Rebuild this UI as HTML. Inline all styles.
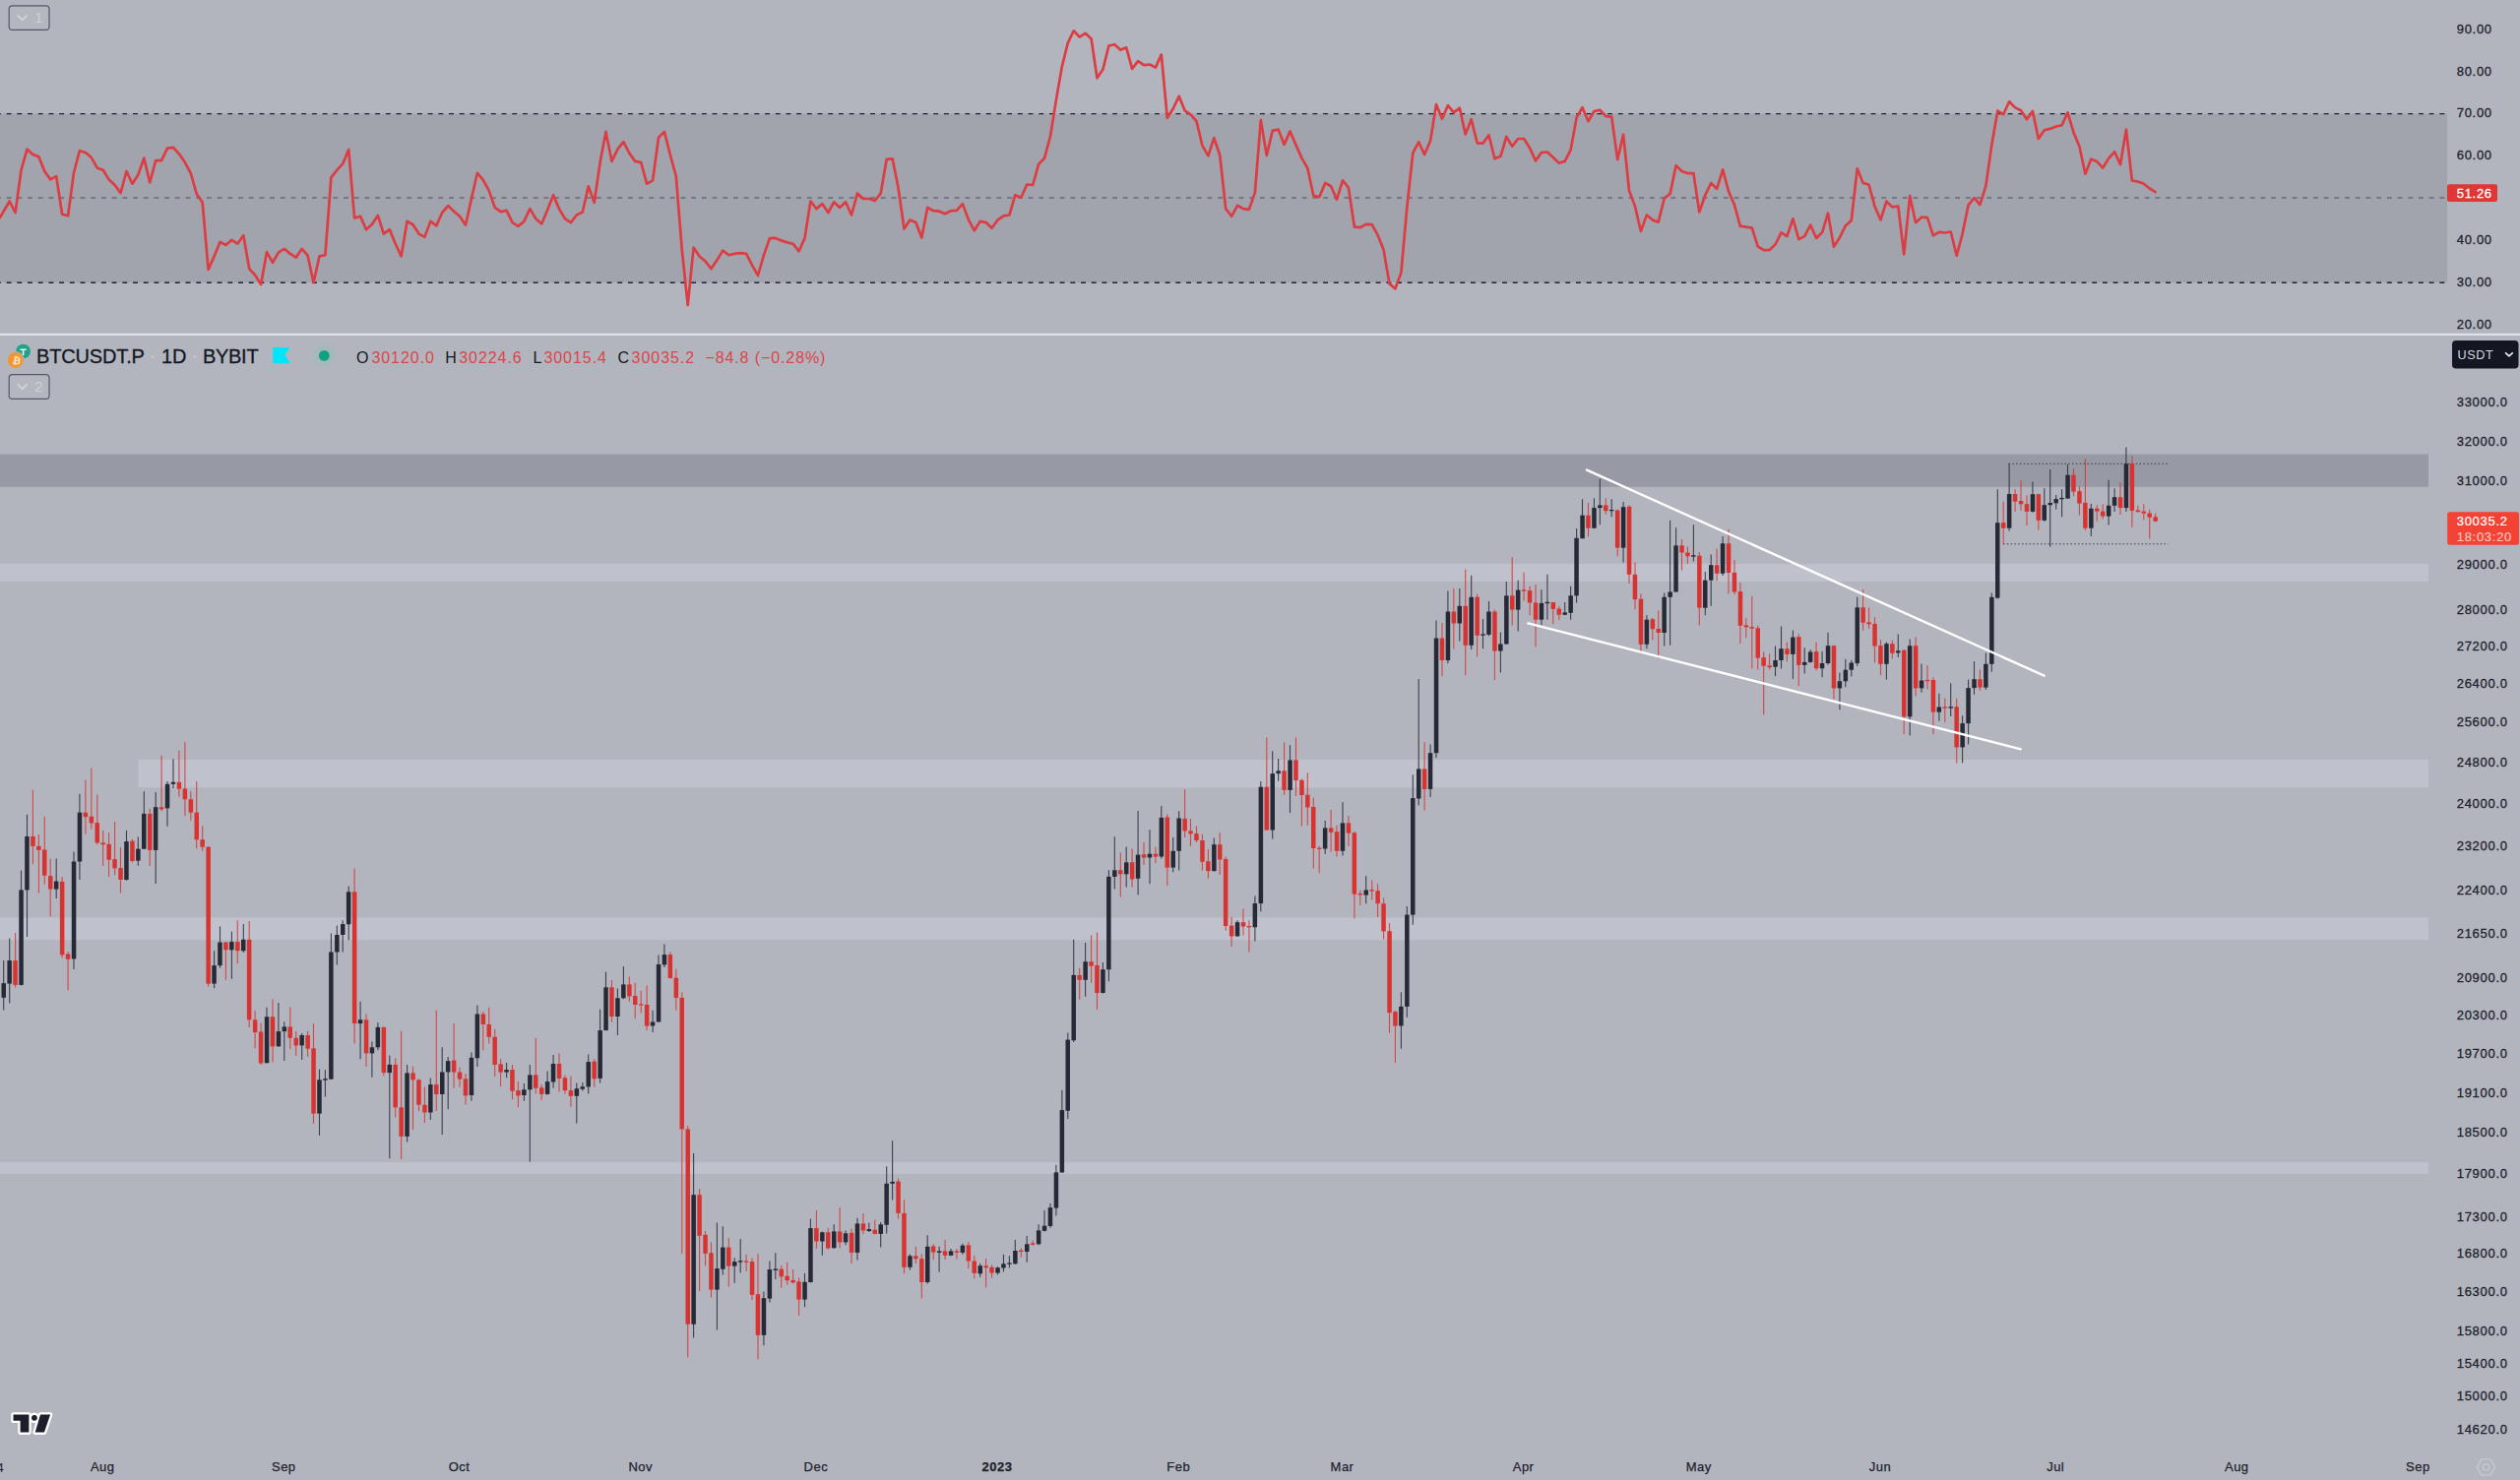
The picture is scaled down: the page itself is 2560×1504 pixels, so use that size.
<!DOCTYPE html>
<html lang="en"><head><meta charset="utf-8"><title>BTCUSDT.P 1D BYBIT</title>
<style>html,body{margin:0;padding:0;background:#b2b5be;overflow:hidden}svg{display:block}</style></head>
<body>
<svg width="2560" height="1504" viewBox="0 0 2560 1504" font-family="'Liberation Sans', sans-serif">
<rect width="2560" height="1504" fill="#b2b5be"/>
<rect x="0" y="115.6" width="2486" height="171.5" fill="#a1a4ad"/>
<line x1="-4.05" y1="115.6" x2="2486" y2="115.6" stroke="#20232d" stroke-width="1.4" stroke-dasharray="4.9 5.8"/>
<line x1="-4.05" y1="287.2" x2="2486" y2="287.2" stroke="#20232d" stroke-width="1.4" stroke-dasharray="4.9 5.8"/>
<line x1="-4.05" y1="201.0" x2="2486" y2="201.0" stroke="#676a75" stroke-width="1.4" stroke-dasharray="4.9 5.8"/>
<polyline fill="none" stroke="#dc3c42" stroke-width="2.7" stroke-linejoin="round" stroke-linecap="round" points="0.0,221.0 9.7,204.5 15.6,216.0 21.5,172.8 27.5,151.7 33.4,157.0 39.4,159.3 45.3,174.0 51.2,182.4 57.2,179.1 63.1,217.7 69.1,219.3 75.0,175.3 80.9,153.2 86.9,155.0 92.8,160.1 98.8,170.7 104.7,172.8 110.6,182.4 116.6,188.0 122.5,196.1 128.5,174.0 134.4,186.7 140.3,177.8 146.3,160.6 152.2,185.5 158.2,163.1 164.1,163.1 170.0,150.7 176.0,149.9 181.9,156.3 187.9,165.1 193.8,176.1 199.7,196.9 205.7,205.8 211.6,273.9 217.6,260.4 223.5,245.9 229.4,249.0 235.4,243.9 241.3,247.7 247.3,239.3 253.2,273.1 259.1,279.5 265.1,289.1 271.0,256.1 277.0,266.8 282.9,256.6 288.8,252.8 294.8,257.9 300.7,261.7 306.7,252.8 312.6,259.7 318.5,287.1 324.5,260.4 330.4,259.2 336.4,180.4 342.3,172.8 348.2,166.4 354.2,151.9 360.1,221.5 366.1,219.8 372.0,233.2 377.9,227.9 383.9,219.0 389.8,237.6 395.8,233.2 401.7,247.7 407.6,260.4 413.6,224.9 419.5,228.2 425.5,237.6 431.4,240.9 437.3,224.9 443.3,229.4 449.2,216.0 455.2,209.1 461.1,214.7 467.0,219.8 473.0,228.7 478.9,202.0 484.9,175.8 490.8,182.9 496.7,193.6 502.7,210.9 508.6,215.2 514.6,213.9 520.5,226.1 526.4,229.9 532.4,224.9 538.3,212.1 544.3,222.3 550.2,227.4 556.1,213.4 562.1,198.2 568.0,212.1 574.0,222.3 579.9,226.1 585.8,218.5 591.8,215.5 597.7,189.3 603.7,205.8 609.6,165.1 615.5,133.9 621.5,163.9 627.4,151.7 633.4,144.1 639.3,155.6 645.2,163.9 651.2,165.1 657.1,186.7 663.1,183.4 669.0,139.7 674.9,133.9 680.9,157.5 686.8,179.1 692.8,254.1 698.7,310.0 704.6,251.5 710.6,260.4 716.5,265.5 722.5,273.1 728.4,264.2 734.3,254.6 740.3,259.2 746.2,257.9 752.2,257.1 758.1,257.9 764.0,269.3 770.0,280.0 775.9,259.2 781.9,242.1 787.8,241.9 793.7,244.4 799.7,246.4 805.6,247.7 811.6,255.3 817.5,242.1 823.4,204.5 829.4,212.1 835.3,207.1 841.3,216.0 847.2,205.3 853.1,210.9 859.1,205.3 865.0,218.5 871.0,196.4 876.9,202.0 882.8,202.0 888.8,204.0 894.7,196.4 900.7,161.8 906.6,161.3 912.5,190.6 918.5,232.5 924.4,223.6 930.4,226.1 936.3,241.4 942.2,210.9 948.2,214.2 954.1,214.7 960.1,217.2 966.0,214.2 971.9,213.9 977.9,207.1 983.8,223.1 989.8,234.3 995.7,224.9 1001.6,226.1 1007.6,231.7 1013.5,223.6 1019.5,219.3 1025.4,218.5 1031.3,198.2 1037.3,200.7 1043.2,187.5 1049.2,188.0 1055.1,166.9 1061.0,160.8 1067.0,138.5 1072.9,101.6 1078.9,67.3 1084.8,43.7 1090.7,31.3 1096.7,37.6 1102.6,33.8 1108.6,39.4 1114.5,79.3 1120.4,70.6 1126.4,46.5 1132.3,45.2 1138.3,50.8 1144.2,48.3 1150.1,69.9 1156.1,62.2 1162.0,66.1 1168.0,65.5 1173.9,68.6 1179.8,55.4 1185.8,119.9 1191.7,110.5 1197.7,97.8 1203.6,112.3 1209.5,116.4 1215.5,123.2 1221.4,147.9 1227.4,158.3 1233.3,140.2 1239.2,157.5 1245.2,212.1 1251.1,219.8 1257.1,208.8 1263.0,212.1 1268.9,212.9 1274.9,195.6 1280.8,122.0 1286.8,158.0 1292.7,132.9 1298.6,131.6 1304.6,146.9 1310.5,133.4 1316.5,147.4 1322.4,160.6 1328.3,170.7 1334.3,198.7 1340.2,200.2 1346.2,186.0 1352.1,189.3 1358.0,202.7 1364.0,183.4 1369.9,190.6 1375.9,230.7 1381.8,231.2 1387.7,227.9 1393.7,228.2 1399.6,238.8 1405.6,254.1 1411.5,288.4 1417.4,293.4 1423.4,276.9 1429.3,210.9 1435.3,155.5 1441.2,144.3 1447.1,157.0 1453.1,143.0 1459.0,106.2 1465.0,120.7 1470.9,107.2 1476.8,114.3 1482.8,109.8 1488.7,136.4 1494.7,121.2 1500.6,145.3 1506.5,145.6 1512.5,137.2 1518.4,161.3 1524.4,158.8 1530.3,139.0 1536.2,148.6 1542.2,141.0 1548.1,141.0 1554.1,150.4 1560.0,163.4 1565.9,155.0 1571.9,154.5 1577.8,160.1 1583.8,165.7 1589.7,163.9 1595.6,152.4 1601.6,119.4 1607.5,109.2 1613.5,123.2 1619.4,113.1 1625.3,111.8 1631.3,118.1 1637.2,118.7 1643.2,162.1 1649.1,136.7 1655.0,193.6 1661.0,209.6 1666.9,235.0 1672.9,218.5 1678.8,223.6 1684.7,225.6 1690.7,201.5 1696.6,196.9 1702.6,168.2 1708.5,174.0 1714.4,176.1 1720.4,176.1 1726.3,215.5 1732.3,198.2 1738.2,186.0 1744.1,191.8 1750.1,172.3 1756.0,194.4 1762.0,208.3 1767.9,229.9 1773.8,230.7 1779.8,231.7 1785.7,250.3 1791.7,254.1 1797.6,254.1 1803.5,248.5 1809.5,236.3 1815.4,240.1 1821.4,222.3 1827.3,243.1 1833.2,240.1 1839.2,228.7 1845.1,241.9 1851.1,236.3 1857.0,216.7 1862.9,250.8 1868.9,241.4 1874.8,229.4 1880.8,223.9 1886.7,171.3 1892.6,185.9 1898.6,187.8 1904.5,209.7 1910.5,223.4 1916.4,204.6 1922.3,210.4 1928.3,209.7 1934.2,258.4 1940.2,199.2 1946.1,226.2 1952.0,220.7 1958.0,221.2 1963.9,239.4 1969.9,235.9 1975.8,236.5 1981.7,235.5 1987.7,259.8 1993.6,237.6 1999.6,208.3 2005.5,201.1 2011.4,208.0 2017.4,188.9 2023.3,147.4 2029.3,112.7 2035.2,116.2 2041.1,103.3 2047.1,109.4 2053.0,112.3 2059.0,121.3 2064.9,113.0 2070.8,140.9 2076.8,132.3 2082.7,130.9 2088.7,128.5 2094.6,127.3 2100.5,114.4 2106.5,134.5 2112.4,148.8 2118.4,176.8 2124.3,161.7 2130.2,164.1 2136.2,170.6 2142.1,161.0 2148.1,154.3 2154.0,167.2 2159.9,131.6 2165.9,183.5 2171.8,184.6 2177.8,186.8 2183.7,191.5 2189.6,195.1"/>
<text x="2495.7" y="33.6" font-size="13" letter-spacing="0.72" fill="#1e222d" stroke="#1e222d" stroke-width="0.3" font-weight="normal">90.00</text>
<text x="2495.7" y="76.5" font-size="13" letter-spacing="0.72" fill="#1e222d" stroke="#1e222d" stroke-width="0.3" font-weight="normal">80.00</text>
<text x="2495.7" y="119.2" font-size="13" letter-spacing="0.72" fill="#1e222d" stroke="#1e222d" stroke-width="0.3" font-weight="normal">70.00</text>
<text x="2495.7" y="162.4" font-size="13" letter-spacing="0.72" fill="#1e222d" stroke="#1e222d" stroke-width="0.3" font-weight="normal">60.00</text>
<text x="2495.7" y="247.8" font-size="13" letter-spacing="0.72" fill="#1e222d" stroke="#1e222d" stroke-width="0.3" font-weight="normal">40.00</text>
<text x="2495.7" y="290.6" font-size="13" letter-spacing="0.72" fill="#1e222d" stroke="#1e222d" stroke-width="0.3" font-weight="normal">30.00</text>
<text x="2495.7" y="334.1" font-size="13" letter-spacing="0.72" fill="#1e222d" stroke="#1e222d" stroke-width="0.3" font-weight="normal">20.00</text>
<rect x="2486" y="187.2" width="51" height="17.8" rx="2" fill="#df3636"/>
<text x="2495.7" y="200.6" font-size="13" letter-spacing="0.72" fill="#ffffff" stroke="#ffffff" stroke-width="0.3" font-weight="normal">51.26</text>
<rect x="9.2" y="5.8" width="40.8" height="24.6" rx="3.5" fill="#b4b7c0" stroke="#555965" stroke-width="1.2"/>
<path d="M18.5 16.1 L22.7 20.3 L26.9 16.1" fill="none" stroke="#cfd2d9" stroke-width="2" stroke-linecap="round" stroke-linejoin="round"/>
<text x="35.2" y="23.3" font-size="15" fill="#cdd0d7">1</text>
<rect x="0" y="338.8" width="2560" height="2.2" fill="#dfe1e7"/>
<rect x="0" y="461.6" width="2467" height="33.2" fill="#979aa4"/>
<rect x="0" y="573" width="2467" height="17.8" fill="#bfc2cc"/>
<rect x="140.5" y="772" width="2326.5" height="28.3" fill="#bfc2cc"/>
<rect x="0" y="932.4" width="2467" height="22.9" fill="#bfc2cc"/>
<rect x="0" y="1181.2" width="2467" height="11.6" fill="#bfc2cc"/>
<line x1="2040.5" y1="471.3" x2="2202.6" y2="471.3" stroke="#2a2e39" stroke-opacity="0.85" stroke-width="1" stroke-dasharray="1.5 2.3"/>
<line x1="2035" y1="552.8" x2="2202.6" y2="552.8" stroke="#2a2e39" stroke-opacity="0.85" stroke-width="1" stroke-dasharray="1.5 2.3"/>
<path d="M3.7 976.1V1026.6" stroke="#262a36" stroke-width="1.1" stroke-opacity="0.85"/>
<rect x="1.5" y="999.2" width="4.5" height="14.6" fill="#262a36"/>
<path d="M9.7 953.6V1019.6" stroke="#262a36" stroke-width="1.1" stroke-opacity="0.85"/>
<rect x="7.4" y="976.1" width="4.5" height="23.5" fill="#262a36"/>
<path d="M15.6 948.0V1003.4" stroke="#d93331" stroke-width="1.1" stroke-opacity="0.85"/>
<rect x="13.3" y="976.1" width="4.5" height="24.8" fill="#d93331"/>
<path d="M21.5 884.5V1001.5" stroke="#262a36" stroke-width="1.1" stroke-opacity="0.85"/>
<rect x="19.3" y="904.4" width="4.5" height="96.5" fill="#262a36"/>
<path d="M27.5 827.7V952.0" stroke="#262a36" stroke-width="1.1" stroke-opacity="0.85"/>
<rect x="25.2" y="850.0" width="4.5" height="54.4" fill="#262a36"/>
<path d="M33.4 802.7V878.2" stroke="#d93331" stroke-width="1.1" stroke-opacity="0.85"/>
<rect x="31.2" y="850.0" width="4.5" height="9.9" fill="#d93331"/>
<path d="M39.4 848.0V907.5" stroke="#d93331" stroke-width="1.1" stroke-opacity="0.85"/>
<rect x="37.1" y="859.9" width="4.5" height="4.0" fill="#d93331"/>
<path d="M45.3 829.7V898.8" stroke="#d93331" stroke-width="1.1" stroke-opacity="0.85"/>
<rect x="43.0" y="863.5" width="4.5" height="26.2" fill="#d93331"/>
<path d="M51.2 872.6V931.3" stroke="#d93331" stroke-width="1.1" stroke-opacity="0.85"/>
<rect x="49.0" y="890.1" width="4.5" height="13.5" fill="#d93331"/>
<path d="M57.2 872.6V913.1" stroke="#262a36" stroke-width="1.1" stroke-opacity="0.85"/>
<rect x="54.9" y="895.6" width="4.5" height="8.0" fill="#262a36"/>
<path d="M63.1 890.9V973.4" stroke="#d93331" stroke-width="1.1" stroke-opacity="0.85"/>
<rect x="60.9" y="895.9" width="4.5" height="74.4" fill="#d93331"/>
<path d="M69.1 967.1V1006.2" stroke="#d93331" stroke-width="1.1" stroke-opacity="0.85"/>
<rect x="66.8" y="969.5" width="4.5" height="5.3" fill="#d93331"/>
<path d="M75.0 865.4V984.9" stroke="#262a36" stroke-width="1.1" stroke-opacity="0.85"/>
<rect x="72.8" y="875.5" width="4.5" height="98.9" fill="#262a36"/>
<path d="M80.9 806.7V894.0" stroke="#262a36" stroke-width="1.1" stroke-opacity="0.85"/>
<rect x="78.7" y="825.7" width="4.5" height="49.8" fill="#262a36"/>
<path d="M86.9 792.4V847.7" stroke="#d93331" stroke-width="1.1" stroke-opacity="0.85"/>
<rect x="84.6" y="825.7" width="4.5" height="4.5" fill="#d93331"/>
<path d="M92.8 780.5V842.4" stroke="#d93331" stroke-width="1.1" stroke-opacity="0.85"/>
<rect x="90.6" y="829.7" width="4.5" height="6.8" fill="#d93331"/>
<path d="M98.8 807.5V858.3" stroke="#d93331" stroke-width="1.1" stroke-opacity="0.85"/>
<rect x="96.5" y="836.1" width="4.5" height="20.3" fill="#d93331"/>
<path d="M104.7 844.0V880.1" stroke="#d93331" stroke-width="1.1" stroke-opacity="0.85"/>
<rect x="102.5" y="856.4" width="4.5" height="1.9" fill="#d93331"/>
<path d="M110.6 846.1V890.9" stroke="#d93331" stroke-width="1.1" stroke-opacity="0.85"/>
<rect x="108.4" y="857.8" width="4.5" height="15.9" fill="#d93331"/>
<path d="M116.6 835.0V889.3" stroke="#d93331" stroke-width="1.1" stroke-opacity="0.85"/>
<rect x="114.3" y="873.1" width="4.5" height="9.3" fill="#d93331"/>
<path d="M122.5 861.0V907.5" stroke="#d93331" stroke-width="1.1" stroke-opacity="0.85"/>
<rect x="120.3" y="882.1" width="4.5" height="11.9" fill="#d93331"/>
<path d="M128.5 844.0V894.8" stroke="#262a36" stroke-width="1.1" stroke-opacity="0.85"/>
<rect x="126.2" y="855.1" width="4.5" height="38.9" fill="#262a36"/>
<path d="M134.4 852.7V876.6" stroke="#d93331" stroke-width="1.1" stroke-opacity="0.85"/>
<rect x="132.2" y="854.6" width="4.5" height="20.4" fill="#d93331"/>
<path d="M140.3 850.4V879.7" stroke="#262a36" stroke-width="1.1" stroke-opacity="0.85"/>
<rect x="138.1" y="862.7" width="4.5" height="12.0" fill="#262a36"/>
<path d="M146.3 804.3V863.1" stroke="#262a36" stroke-width="1.1" stroke-opacity="0.85"/>
<rect x="144.0" y="826.9" width="4.5" height="35.8" fill="#262a36"/>
<path d="M152.2 821.8V879.7" stroke="#d93331" stroke-width="1.1" stroke-opacity="0.85"/>
<rect x="150.0" y="826.9" width="4.5" height="37.0" fill="#d93331"/>
<path d="M158.2 805.1V898.0" stroke="#262a36" stroke-width="1.1" stroke-opacity="0.85"/>
<rect x="155.9" y="820.2" width="4.5" height="43.7" fill="#262a36"/>
<path d="M164.1 767.8V824.2" stroke="#d93331" stroke-width="1.1" stroke-opacity="0.85"/>
<rect x="161.9" y="820.2" width="4.5" height="2.1" fill="#d93331"/>
<path d="M170.0 794.0V839.7" stroke="#262a36" stroke-width="1.1" stroke-opacity="0.85"/>
<rect x="167.8" y="796.8" width="4.5" height="24.5" fill="#262a36"/>
<path d="M176.0 771.3V801.1" stroke="#262a36" stroke-width="1.1" stroke-opacity="0.85"/>
<rect x="173.7" y="794.8" width="4.5" height="2.0" fill="#262a36"/>
<path d="M181.9 762.7V809.9" stroke="#d93331" stroke-width="1.1" stroke-opacity="0.85"/>
<rect x="179.7" y="794.8" width="4.5" height="6.8" fill="#d93331"/>
<path d="M187.9 754.0V828.9" stroke="#d93331" stroke-width="1.1" stroke-opacity="0.85"/>
<rect x="185.6" y="801.6" width="4.5" height="10.7" fill="#d93331"/>
<path d="M193.8 804.3V833.7" stroke="#d93331" stroke-width="1.1" stroke-opacity="0.85"/>
<rect x="191.6" y="812.3" width="4.5" height="13.4" fill="#d93331"/>
<path d="M199.7 794.0V862.3" stroke="#d93331" stroke-width="1.1" stroke-opacity="0.85"/>
<rect x="197.5" y="825.7" width="4.5" height="27.5" fill="#d93331"/>
<path d="M205.7 839.2V864.7" stroke="#d93331" stroke-width="1.1" stroke-opacity="0.85"/>
<rect x="203.4" y="853.2" width="4.5" height="7.5" fill="#d93331"/>
<path d="M211.6 859.9V1002.4" stroke="#d93331" stroke-width="1.1" stroke-opacity="0.85"/>
<rect x="209.4" y="860.7" width="4.5" height="138.9" fill="#d93331"/>
<path d="M217.6 966.2V1004.3" stroke="#262a36" stroke-width="1.1" stroke-opacity="0.85"/>
<rect x="215.3" y="981.1" width="4.5" height="18.5" fill="#262a36"/>
<path d="M223.5 941.4V983.7" stroke="#262a36" stroke-width="1.1" stroke-opacity="0.85"/>
<rect x="221.2" y="957.6" width="4.5" height="23.5" fill="#262a36"/>
<path d="M229.4 956.7V995.7" stroke="#d93331" stroke-width="1.1" stroke-opacity="0.85"/>
<rect x="227.2" y="957.6" width="4.5" height="7.7" fill="#d93331"/>
<path d="M235.4 946.8V994.8" stroke="#262a36" stroke-width="1.1" stroke-opacity="0.85"/>
<rect x="233.1" y="957.1" width="4.5" height="8.2" fill="#262a36"/>
<path d="M241.3 935.3V979.2" stroke="#d93331" stroke-width="1.1" stroke-opacity="0.85"/>
<rect x="239.1" y="957.1" width="4.5" height="9.1" fill="#d93331"/>
<path d="M247.3 939.1V968.1" stroke="#262a36" stroke-width="1.1" stroke-opacity="0.85"/>
<rect x="245.0" y="954.8" width="4.5" height="11.4" fill="#262a36"/>
<path d="M253.2 936.1V1043.9" stroke="#d93331" stroke-width="1.1" stroke-opacity="0.85"/>
<rect x="250.9" y="954.8" width="4.5" height="81.5" fill="#d93331"/>
<path d="M259.1 1027.2V1065.3" stroke="#d93331" stroke-width="1.1" stroke-opacity="0.85"/>
<rect x="256.9" y="1036.3" width="4.5" height="12.8" fill="#d93331"/>
<path d="M265.1 1039.6V1081.9" stroke="#d93331" stroke-width="1.1" stroke-opacity="0.85"/>
<rect x="262.8" y="1048.5" width="4.5" height="32.0" fill="#d93331"/>
<path d="M271.0 1023.8V1080.5" stroke="#262a36" stroke-width="1.1" stroke-opacity="0.85"/>
<rect x="268.8" y="1033.3" width="4.5" height="46.9" fill="#262a36"/>
<path d="M277.0 1015.2V1079.6" stroke="#d93331" stroke-width="1.1" stroke-opacity="0.85"/>
<rect x="274.7" y="1033.3" width="4.5" height="30.1" fill="#d93331"/>
<path d="M282.9 1019.0V1063.4" stroke="#262a36" stroke-width="1.1" stroke-opacity="0.85"/>
<rect x="280.7" y="1048.1" width="4.5" height="15.3" fill="#262a36"/>
<path d="M288.8 1038.2V1078.1" stroke="#262a36" stroke-width="1.1" stroke-opacity="0.85"/>
<rect x="286.6" y="1043.4" width="4.5" height="4.7" fill="#262a36"/>
<path d="M294.8 1023.4V1066.2" stroke="#d93331" stroke-width="1.1" stroke-opacity="0.85"/>
<rect x="292.5" y="1043.4" width="4.5" height="11.4" fill="#d93331"/>
<path d="M300.7 1048.1V1072.9" stroke="#d93331" stroke-width="1.1" stroke-opacity="0.85"/>
<rect x="298.5" y="1054.8" width="4.5" height="7.6" fill="#d93331"/>
<path d="M306.7 1050.0V1077.1" stroke="#262a36" stroke-width="1.1" stroke-opacity="0.85"/>
<rect x="304.4" y="1052.0" width="4.5" height="10.4" fill="#262a36"/>
<path d="M312.6 1047.8V1073.9" stroke="#d93331" stroke-width="1.1" stroke-opacity="0.85"/>
<rect x="310.4" y="1052.0" width="4.5" height="13.7" fill="#d93331"/>
<path d="M318.5 1040.1V1141.9" stroke="#d93331" stroke-width="1.1" stroke-opacity="0.85"/>
<rect x="316.3" y="1065.3" width="4.5" height="66.3" fill="#d93331"/>
<path d="M324.5 1086.6V1153.9" stroke="#262a36" stroke-width="1.1" stroke-opacity="0.85"/>
<rect x="322.2" y="1097.3" width="4.5" height="34.3" fill="#262a36"/>
<path d="M330.4 1087.2V1114.5" stroke="#262a36" stroke-width="1.1" stroke-opacity="0.85"/>
<rect x="328.2" y="1096.2" width="4.5" height="1.5" fill="#262a36"/>
<path d="M336.4 948.5V1096.7" stroke="#262a36" stroke-width="1.1" stroke-opacity="0.85"/>
<rect x="334.1" y="967.5" width="4.5" height="129.2" fill="#262a36"/>
<path d="M342.3 940.5V980.5" stroke="#262a36" stroke-width="1.1" stroke-opacity="0.85"/>
<rect x="340.1" y="950.0" width="4.5" height="17.5" fill="#262a36"/>
<path d="M348.2 935.3V967.5" stroke="#262a36" stroke-width="1.1" stroke-opacity="0.85"/>
<rect x="346.0" y="939.1" width="4.5" height="10.9" fill="#262a36"/>
<path d="M354.2 900.4V955.2" stroke="#262a36" stroke-width="1.1" stroke-opacity="0.85"/>
<rect x="351.9" y="906.3" width="4.5" height="33.0" fill="#262a36"/>
<path d="M360.1 882.6V1060.5" stroke="#d93331" stroke-width="1.1" stroke-opacity="0.85"/>
<rect x="357.9" y="906.3" width="4.5" height="133.8" fill="#d93331"/>
<path d="M366.1 1017.7V1076.3" stroke="#262a36" stroke-width="1.1" stroke-opacity="0.85"/>
<rect x="363.8" y="1036.3" width="4.5" height="3.8" fill="#262a36"/>
<path d="M372.0 1030.4V1084.0" stroke="#d93331" stroke-width="1.1" stroke-opacity="0.85"/>
<rect x="369.8" y="1036.3" width="4.5" height="34.1" fill="#d93331"/>
<path d="M377.9 1058.6V1094.8" stroke="#262a36" stroke-width="1.1" stroke-opacity="0.85"/>
<rect x="375.7" y="1064.3" width="4.5" height="6.1" fill="#262a36"/>
<path d="M383.9 1039.2V1067.2" stroke="#262a36" stroke-width="1.1" stroke-opacity="0.85"/>
<rect x="381.6" y="1043.9" width="4.5" height="20.4" fill="#262a36"/>
<path d="M389.8 1043.4V1093.3" stroke="#d93331" stroke-width="1.1" stroke-opacity="0.85"/>
<rect x="387.6" y="1043.9" width="4.5" height="46.2" fill="#d93331"/>
<path d="M395.8 1072.5V1177.3" stroke="#262a36" stroke-width="1.1" stroke-opacity="0.85"/>
<rect x="393.5" y="1081.9" width="4.5" height="8.2" fill="#262a36"/>
<path d="M401.7 1075.2V1135.4" stroke="#d93331" stroke-width="1.1" stroke-opacity="0.85"/>
<rect x="399.4" y="1081.9" width="4.5" height="43.4" fill="#d93331"/>
<path d="M407.6 1047.8V1178.1" stroke="#d93331" stroke-width="1.1" stroke-opacity="0.85"/>
<rect x="405.4" y="1125.3" width="4.5" height="29.6" fill="#d93331"/>
<path d="M413.6 1081.9V1160.6" stroke="#262a36" stroke-width="1.1" stroke-opacity="0.85"/>
<rect x="411.3" y="1090.4" width="4.5" height="64.5" fill="#262a36"/>
<path d="M419.5 1083.4V1148.2" stroke="#d93331" stroke-width="1.1" stroke-opacity="0.85"/>
<rect x="417.3" y="1090.4" width="4.5" height="6.9" fill="#d93331"/>
<path d="M425.5 1096.4V1129.1" stroke="#d93331" stroke-width="1.1" stroke-opacity="0.85"/>
<rect x="423.2" y="1097.3" width="4.5" height="25.5" fill="#d93331"/>
<path d="M431.4 1104.4V1141.1" stroke="#d93331" stroke-width="1.1" stroke-opacity="0.85"/>
<rect x="429.2" y="1122.8" width="4.5" height="7.7" fill="#d93331"/>
<path d="M437.3 1095.4V1138.1" stroke="#262a36" stroke-width="1.1" stroke-opacity="0.85"/>
<rect x="435.1" y="1102.1" width="4.5" height="28.4" fill="#262a36"/>
<path d="M443.3 1026.6V1129.1" stroke="#d93331" stroke-width="1.1" stroke-opacity="0.85"/>
<rect x="441.0" y="1102.1" width="4.5" height="9.9" fill="#d93331"/>
<path d="M449.2 1064.3V1152.9" stroke="#262a36" stroke-width="1.1" stroke-opacity="0.85"/>
<rect x="447.0" y="1089.5" width="4.5" height="22.5" fill="#262a36"/>
<path d="M455.2 1073.9V1127.2" stroke="#262a36" stroke-width="1.1" stroke-opacity="0.85"/>
<rect x="452.9" y="1078.2" width="4.5" height="11.3" fill="#262a36"/>
<path d="M461.1 1040.0V1105.8" stroke="#d93331" stroke-width="1.1" stroke-opacity="0.85"/>
<rect x="458.9" y="1077.6" width="4.5" height="12.0" fill="#d93331"/>
<path d="M467.0 1084.8V1104.8" stroke="#d93331" stroke-width="1.1" stroke-opacity="0.85"/>
<rect x="464.8" y="1089.6" width="4.5" height="7.0" fill="#d93331"/>
<path d="M473.0 1090.9V1122.5" stroke="#d93331" stroke-width="1.1" stroke-opacity="0.85"/>
<rect x="470.7" y="1096.3" width="4.5" height="17.1" fill="#d93331"/>
<path d="M478.9 1069.6V1118.7" stroke="#262a36" stroke-width="1.1" stroke-opacity="0.85"/>
<rect x="476.7" y="1074.9" width="4.5" height="38.1" fill="#262a36"/>
<path d="M484.9 1021.6V1083.9" stroke="#262a36" stroke-width="1.1" stroke-opacity="0.85"/>
<rect x="482.6" y="1030.5" width="4.5" height="44.8" fill="#262a36"/>
<path d="M490.8 1028.0V1067.3" stroke="#d93331" stroke-width="1.1" stroke-opacity="0.85"/>
<rect x="488.6" y="1030.5" width="4.5" height="10.5" fill="#d93331"/>
<path d="M496.7 1023.8V1060.4" stroke="#d93331" stroke-width="1.1" stroke-opacity="0.85"/>
<rect x="494.5" y="1041.0" width="4.5" height="12.8" fill="#d93331"/>
<path d="M502.7 1045.8V1094.0" stroke="#d93331" stroke-width="1.1" stroke-opacity="0.85"/>
<rect x="500.4" y="1053.8" width="4.5" height="28.2" fill="#d93331"/>
<path d="M508.6 1076.2V1104.3" stroke="#d93331" stroke-width="1.1" stroke-opacity="0.85"/>
<rect x="506.4" y="1081.4" width="4.5" height="8.2" fill="#d93331"/>
<path d="M514.6 1080.1V1095.3" stroke="#262a36" stroke-width="1.1" stroke-opacity="0.85"/>
<rect x="512.3" y="1087.1" width="4.5" height="2.5" fill="#262a36"/>
<path d="M520.5 1082.0V1117.2" stroke="#d93331" stroke-width="1.1" stroke-opacity="0.85"/>
<rect x="518.2" y="1087.1" width="4.5" height="21.5" fill="#d93331"/>
<path d="M526.4 1099.1V1125.2" stroke="#d93331" stroke-width="1.1" stroke-opacity="0.85"/>
<rect x="524.2" y="1108.1" width="4.5" height="5.3" fill="#d93331"/>
<path d="M532.4 1101.0V1118.7" stroke="#262a36" stroke-width="1.1" stroke-opacity="0.85"/>
<rect x="530.1" y="1107.3" width="4.5" height="5.7" fill="#262a36"/>
<path d="M538.3 1082.0V1180.5" stroke="#262a36" stroke-width="1.1" stroke-opacity="0.85"/>
<rect x="536.1" y="1092.4" width="4.5" height="14.9" fill="#262a36"/>
<path d="M544.3 1054.7V1111.5" stroke="#d93331" stroke-width="1.1" stroke-opacity="0.85"/>
<rect x="542.0" y="1092.4" width="4.5" height="13.4" fill="#d93331"/>
<path d="M550.2 1102.0V1118.2" stroke="#d93331" stroke-width="1.1" stroke-opacity="0.85"/>
<rect x="548.0" y="1105.4" width="4.5" height="6.5" fill="#d93331"/>
<path d="M556.1 1088.6V1112.4" stroke="#262a36" stroke-width="1.1" stroke-opacity="0.85"/>
<rect x="553.9" y="1099.1" width="4.5" height="12.8" fill="#262a36"/>
<path d="M562.1 1072.1V1105.8" stroke="#262a36" stroke-width="1.1" stroke-opacity="0.85"/>
<rect x="559.8" y="1081.0" width="4.5" height="18.5" fill="#262a36"/>
<path d="M568.0 1070.5V1109.6" stroke="#d93331" stroke-width="1.1" stroke-opacity="0.85"/>
<rect x="565.8" y="1081.0" width="4.5" height="14.9" fill="#d93331"/>
<path d="M574.0 1092.4V1111.5" stroke="#d93331" stroke-width="1.1" stroke-opacity="0.85"/>
<rect x="571.7" y="1095.3" width="4.5" height="12.8" fill="#d93331"/>
<path d="M579.9 1093.4V1124.8" stroke="#d93331" stroke-width="1.1" stroke-opacity="0.85"/>
<rect x="577.7" y="1108.1" width="4.5" height="5.7" fill="#d93331"/>
<path d="M585.8 1100.6V1141.4" stroke="#262a36" stroke-width="1.1" stroke-opacity="0.85"/>
<rect x="583.6" y="1106.2" width="4.5" height="7.6" fill="#262a36"/>
<path d="M591.8 1100.1V1108.6" stroke="#262a36" stroke-width="1.1" stroke-opacity="0.85"/>
<rect x="589.5" y="1104.3" width="4.5" height="2.4" fill="#262a36"/>
<path d="M597.7 1071.5V1111.5" stroke="#262a36" stroke-width="1.1" stroke-opacity="0.85"/>
<rect x="595.5" y="1079.1" width="4.5" height="25.3" fill="#262a36"/>
<path d="M603.7 1076.2V1104.8" stroke="#d93331" stroke-width="1.1" stroke-opacity="0.85"/>
<rect x="601.4" y="1078.7" width="4.5" height="17.6" fill="#d93331"/>
<path d="M609.6 1025.7V1100.6" stroke="#262a36" stroke-width="1.1" stroke-opacity="0.85"/>
<rect x="607.4" y="1047.1" width="4.5" height="48.8" fill="#262a36"/>
<path d="M615.5 987.6V1047.1" stroke="#262a36" stroke-width="1.1" stroke-opacity="0.85"/>
<rect x="613.3" y="1003.3" width="4.5" height="43.8" fill="#262a36"/>
<path d="M621.5 996.2V1038.7" stroke="#d93331" stroke-width="1.1" stroke-opacity="0.85"/>
<rect x="619.2" y="1003.3" width="4.5" height="29.7" fill="#d93331"/>
<path d="M627.4 1004.4V1052.0" stroke="#262a36" stroke-width="1.1" stroke-opacity="0.85"/>
<rect x="625.2" y="1014.3" width="4.5" height="18.7" fill="#262a36"/>
<path d="M633.4 981.9V1015.3" stroke="#262a36" stroke-width="1.1" stroke-opacity="0.85"/>
<rect x="631.1" y="1000.4" width="4.5" height="13.9" fill="#262a36"/>
<path d="M639.3 992.4V1018.1" stroke="#d93331" stroke-width="1.1" stroke-opacity="0.85"/>
<rect x="637.1" y="1000.4" width="4.5" height="12.0" fill="#d93331"/>
<path d="M645.2 998.7V1035.3" stroke="#d93331" stroke-width="1.1" stroke-opacity="0.85"/>
<rect x="643.0" y="1012.0" width="4.5" height="9.0" fill="#d93331"/>
<path d="M651.2 1006.7V1029.6" stroke="#d93331" stroke-width="1.1" stroke-opacity="0.85"/>
<rect x="648.9" y="1020.4" width="4.5" height="1.2" fill="#d93331"/>
<path d="M657.1 1001.4V1047.1" stroke="#d93331" stroke-width="1.1" stroke-opacity="0.85"/>
<rect x="654.9" y="1021.0" width="4.5" height="21.5" fill="#d93331"/>
<path d="M663.1 1026.7V1049.0" stroke="#262a36" stroke-width="1.1" stroke-opacity="0.85"/>
<rect x="660.8" y="1038.5" width="4.5" height="4.0" fill="#262a36"/>
<path d="M669.0 970.5V1038.5" stroke="#262a36" stroke-width="1.1" stroke-opacity="0.85"/>
<rect x="666.8" y="980.0" width="4.5" height="58.5" fill="#262a36"/>
<path d="M674.9 959.6V982.9" stroke="#262a36" stroke-width="1.1" stroke-opacity="0.85"/>
<rect x="672.7" y="970.1" width="4.5" height="10.3" fill="#262a36"/>
<path d="M680.9 967.6V994.7" stroke="#d93331" stroke-width="1.1" stroke-opacity="0.85"/>
<rect x="678.6" y="970.1" width="4.5" height="23.8" fill="#d93331"/>
<path d="M686.8 984.8V1026.7" stroke="#d93331" stroke-width="1.1" stroke-opacity="0.85"/>
<rect x="684.6" y="993.7" width="4.5" height="20.2" fill="#d93331"/>
<path d="M692.8 1008.6V1273.9" stroke="#d93331" stroke-width="1.1" stroke-opacity="0.85"/>
<rect x="690.5" y="1013.9" width="4.5" height="133.6" fill="#d93331"/>
<path d="M698.7 1144.3V1379.2" stroke="#d93331" stroke-width="1.1" stroke-opacity="0.85"/>
<rect x="696.5" y="1147.5" width="4.5" height="198.2" fill="#d93331"/>
<path d="M704.6 1171.9V1359.6" stroke="#262a36" stroke-width="1.1" stroke-opacity="0.85"/>
<rect x="702.4" y="1214.2" width="4.5" height="131.5" fill="#262a36"/>
<path d="M710.6 1208.1V1312.0" stroke="#d93331" stroke-width="1.1" stroke-opacity="0.85"/>
<rect x="708.3" y="1214.2" width="4.5" height="41.6" fill="#d93331"/>
<path d="M716.5 1251.0V1286.3" stroke="#d93331" stroke-width="1.1" stroke-opacity="0.85"/>
<rect x="714.3" y="1254.8" width="4.5" height="19.1" fill="#d93331"/>
<path d="M722.5 1262.4V1318.6" stroke="#d93331" stroke-width="1.1" stroke-opacity="0.85"/>
<rect x="720.2" y="1273.3" width="4.5" height="37.3" fill="#d93331"/>
<path d="M728.4 1242.4V1351.6" stroke="#262a36" stroke-width="1.1" stroke-opacity="0.85"/>
<rect x="726.2" y="1289.1" width="4.5" height="21.5" fill="#262a36"/>
<path d="M734.3 1246.2V1295.4" stroke="#262a36" stroke-width="1.1" stroke-opacity="0.85"/>
<rect x="732.1" y="1267.6" width="4.5" height="22.1" fill="#262a36"/>
<path d="M740.3 1258.1V1307.6" stroke="#d93331" stroke-width="1.1" stroke-opacity="0.85"/>
<rect x="738.0" y="1267.6" width="4.5" height="19.0" fill="#d93331"/>
<path d="M746.2 1278.2V1303.8" stroke="#262a36" stroke-width="1.1" stroke-opacity="0.85"/>
<rect x="744.0" y="1282.1" width="4.5" height="4.5" fill="#262a36"/>
<path d="M752.2 1259.0V1293.5" stroke="#262a36" stroke-width="1.1" stroke-opacity="0.85"/>
<rect x="749.9" y="1281.2" width="4.5" height="1.4" fill="#262a36"/>
<path d="M758.1 1274.8V1292.0" stroke="#d93331" stroke-width="1.1" stroke-opacity="0.85"/>
<rect x="755.9" y="1281.5" width="4.5" height="1.3" fill="#d93331"/>
<path d="M764.0 1278.6V1320.9" stroke="#d93331" stroke-width="1.1" stroke-opacity="0.85"/>
<rect x="761.8" y="1282.1" width="4.5" height="33.7" fill="#d93331"/>
<path d="M770.0 1274.2V1381.5" stroke="#d93331" stroke-width="1.1" stroke-opacity="0.85"/>
<rect x="767.7" y="1315.2" width="4.5" height="41.6" fill="#d93331"/>
<path d="M775.9 1312.5V1367.2" stroke="#262a36" stroke-width="1.1" stroke-opacity="0.85"/>
<rect x="773.7" y="1319.2" width="4.5" height="37.6" fill="#262a36"/>
<path d="M781.9 1281.5V1323.4" stroke="#262a36" stroke-width="1.1" stroke-opacity="0.85"/>
<rect x="779.6" y="1290.1" width="4.5" height="29.5" fill="#262a36"/>
<path d="M787.8 1273.3V1300.0" stroke="#262a36" stroke-width="1.1" stroke-opacity="0.85"/>
<rect x="785.6" y="1289.5" width="4.5" height="1.4" fill="#262a36"/>
<path d="M793.7 1285.9V1308.7" stroke="#d93331" stroke-width="1.1" stroke-opacity="0.85"/>
<rect x="791.5" y="1289.7" width="4.5" height="7.6" fill="#d93331"/>
<path d="M799.7 1282.8V1305.7" stroke="#d93331" stroke-width="1.1" stroke-opacity="0.85"/>
<rect x="797.4" y="1296.7" width="4.5" height="4.4" fill="#d93331"/>
<path d="M805.6 1290.1V1304.4" stroke="#d93331" stroke-width="1.1" stroke-opacity="0.85"/>
<rect x="803.4" y="1300.9" width="4.5" height="2.5" fill="#d93331"/>
<path d="M811.6 1298.6V1337.1" stroke="#d93331" stroke-width="1.1" stroke-opacity="0.85"/>
<rect x="809.3" y="1302.4" width="4.5" height="18.2" fill="#d93331"/>
<path d="M817.5 1293.9V1328.2" stroke="#262a36" stroke-width="1.1" stroke-opacity="0.85"/>
<rect x="815.3" y="1302.8" width="4.5" height="17.8" fill="#262a36"/>
<path d="M823.4 1238.6V1303.4" stroke="#262a36" stroke-width="1.1" stroke-opacity="0.85"/>
<rect x="821.2" y="1248.1" width="4.5" height="54.9" fill="#262a36"/>
<path d="M829.4 1230.0V1269.1" stroke="#d93331" stroke-width="1.1" stroke-opacity="0.85"/>
<rect x="827.1" y="1248.1" width="4.5" height="13.4" fill="#d93331"/>
<path d="M835.3 1251.6V1275.8" stroke="#262a36" stroke-width="1.1" stroke-opacity="0.85"/>
<rect x="833.1" y="1252.3" width="4.5" height="9.2" fill="#262a36"/>
<path d="M841.3 1247.8V1269.7" stroke="#d93331" stroke-width="1.1" stroke-opacity="0.85"/>
<rect x="839.0" y="1252.3" width="4.5" height="16.2" fill="#d93331"/>
<path d="M847.2 1244.3V1268.7" stroke="#262a36" stroke-width="1.1" stroke-opacity="0.85"/>
<rect x="845.0" y="1251.4" width="4.5" height="16.8" fill="#262a36"/>
<path d="M853.1 1227.2V1268.2" stroke="#d93331" stroke-width="1.1" stroke-opacity="0.85"/>
<rect x="850.9" y="1251.4" width="4.5" height="11.0" fill="#d93331"/>
<path d="M859.1 1250.6V1265.3" stroke="#262a36" stroke-width="1.1" stroke-opacity="0.85"/>
<rect x="856.8" y="1253.3" width="4.5" height="9.1" fill="#262a36"/>
<path d="M865.0 1248.5V1284.0" stroke="#d93331" stroke-width="1.1" stroke-opacity="0.85"/>
<rect x="862.8" y="1252.9" width="4.5" height="20.0" fill="#d93331"/>
<path d="M871.0 1237.7V1280.5" stroke="#262a36" stroke-width="1.1" stroke-opacity="0.85"/>
<rect x="868.7" y="1243.4" width="4.5" height="29.5" fill="#262a36"/>
<path d="M876.9 1232.9V1254.2" stroke="#d93331" stroke-width="1.1" stroke-opacity="0.85"/>
<rect x="874.7" y="1243.4" width="4.5" height="7.0" fill="#d93331"/>
<path d="M882.8 1242.4V1252.0" stroke="#262a36" stroke-width="1.1" stroke-opacity="0.85"/>
<rect x="880.6" y="1249.1" width="4.5" height="1.9" fill="#262a36"/>
<path d="M888.8 1239.6V1254.2" stroke="#d93331" stroke-width="1.1" stroke-opacity="0.85"/>
<rect x="886.5" y="1249.7" width="4.5" height="4.2" fill="#d93331"/>
<path d="M894.7 1241.9V1267.6" stroke="#262a36" stroke-width="1.1" stroke-opacity="0.85"/>
<rect x="892.5" y="1244.3" width="4.5" height="9.6" fill="#262a36"/>
<path d="M900.7 1185.3V1253.5" stroke="#262a36" stroke-width="1.1" stroke-opacity="0.85"/>
<rect x="898.4" y="1202.8" width="4.5" height="41.9" fill="#262a36"/>
<path d="M906.6 1159.2V1219.6" stroke="#262a36" stroke-width="1.1" stroke-opacity="0.85"/>
<rect x="904.4" y="1200.9" width="4.5" height="1.9" fill="#262a36"/>
<path d="M912.5 1197.6V1238.6" stroke="#d93331" stroke-width="1.1" stroke-opacity="0.85"/>
<rect x="910.3" y="1200.5" width="4.5" height="32.4" fill="#d93331"/>
<path d="M918.5 1219.2V1294.3" stroke="#d93331" stroke-width="1.1" stroke-opacity="0.85"/>
<rect x="916.2" y="1232.9" width="4.5" height="54.9" fill="#d93331"/>
<path d="M924.4 1274.4V1290.4" stroke="#262a36" stroke-width="1.1" stroke-opacity="0.85"/>
<rect x="922.2" y="1276.3" width="4.5" height="11.5" fill="#262a36"/>
<path d="M930.4 1266.8V1284.0" stroke="#d93331" stroke-width="1.1" stroke-opacity="0.85"/>
<rect x="928.1" y="1276.3" width="4.5" height="2.9" fill="#d93331"/>
<path d="M936.3 1274.2V1319.6" stroke="#d93331" stroke-width="1.1" stroke-opacity="0.85"/>
<rect x="934.1" y="1279.2" width="4.5" height="23.8" fill="#d93331"/>
<path d="M942.2 1255.2V1304.4" stroke="#262a36" stroke-width="1.1" stroke-opacity="0.85"/>
<rect x="940.0" y="1266.8" width="4.5" height="36.2" fill="#262a36"/>
<path d="M948.2 1264.3V1280.2" stroke="#d93331" stroke-width="1.1" stroke-opacity="0.85"/>
<rect x="945.9" y="1266.4" width="4.5" height="6.1" fill="#d93331"/>
<path d="M954.1 1266.8V1292.5" stroke="#262a36" stroke-width="1.1" stroke-opacity="0.85"/>
<rect x="951.9" y="1271.4" width="4.5" height="1.5" fill="#262a36"/>
<path d="M960.1 1260.0V1280.2" stroke="#d93331" stroke-width="1.1" stroke-opacity="0.85"/>
<rect x="957.8" y="1271.4" width="4.5" height="4.4" fill="#d93331"/>
<path d="M966.0 1269.1V1276.3" stroke="#262a36" stroke-width="1.1" stroke-opacity="0.85"/>
<rect x="963.8" y="1271.4" width="4.5" height="4.4" fill="#262a36"/>
<path d="M971.9 1269.1V1279.6" stroke="#d93331" stroke-width="1.1" stroke-opacity="0.85"/>
<rect x="969.7" y="1271.4" width="4.5" height="1.5" fill="#d93331"/>
<path d="M977.9 1263.8V1274.8" stroke="#262a36" stroke-width="1.1" stroke-opacity="0.85"/>
<rect x="975.6" y="1265.7" width="4.5" height="7.2" fill="#262a36"/>
<path d="M983.8 1261.9V1289.1" stroke="#d93331" stroke-width="1.1" stroke-opacity="0.85"/>
<rect x="981.6" y="1265.3" width="4.5" height="16.2" fill="#d93331"/>
<path d="M989.8 1275.8V1299.2" stroke="#d93331" stroke-width="1.1" stroke-opacity="0.85"/>
<rect x="987.5" y="1281.5" width="4.5" height="12.4" fill="#d93331"/>
<path d="M995.7 1284.0V1297.7" stroke="#262a36" stroke-width="1.1" stroke-opacity="0.85"/>
<rect x="993.5" y="1286.3" width="4.5" height="8.0" fill="#262a36"/>
<path d="M1001.6 1279.0V1308.2" stroke="#d93331" stroke-width="1.1" stroke-opacity="0.85"/>
<rect x="999.4" y="1286.3" width="4.5" height="1.9" fill="#d93331"/>
<path d="M1007.6 1285.3V1298.6" stroke="#d93331" stroke-width="1.1" stroke-opacity="0.85"/>
<rect x="1005.3" y="1287.8" width="4.5" height="5.7" fill="#d93331"/>
<path d="M1013.5 1287.2V1295.4" stroke="#262a36" stroke-width="1.1" stroke-opacity="0.85"/>
<rect x="1011.3" y="1288.2" width="4.5" height="5.3" fill="#262a36"/>
<path d="M1019.5 1274.8V1292.4" stroke="#262a36" stroke-width="1.1" stroke-opacity="0.85"/>
<rect x="1017.2" y="1284.3" width="4.5" height="4.2" fill="#262a36"/>
<path d="M1025.4 1276.3V1288.5" stroke="#262a36" stroke-width="1.1" stroke-opacity="0.85"/>
<rect x="1023.2" y="1283.4" width="4.5" height="1.3" fill="#262a36"/>
<path d="M1031.3 1260.0V1284.7" stroke="#262a36" stroke-width="1.1" stroke-opacity="0.85"/>
<rect x="1029.1" y="1271.0" width="4.5" height="13.3" fill="#262a36"/>
<path d="M1037.3 1268.2V1277.7" stroke="#d93331" stroke-width="1.1" stroke-opacity="0.85"/>
<rect x="1035.0" y="1270.6" width="4.5" height="1.4" fill="#d93331"/>
<path d="M1043.2 1256.1V1282.8" stroke="#262a36" stroke-width="1.1" stroke-opacity="0.85"/>
<rect x="1041.0" y="1264.3" width="4.5" height="7.7" fill="#262a36"/>
<path d="M1049.2 1260.5V1265.7" stroke="#d93331" stroke-width="1.1" stroke-opacity="0.85"/>
<rect x="1046.9" y="1263.4" width="4.5" height="1.5" fill="#d93331"/>
<path d="M1055.1 1244.3V1265.3" stroke="#262a36" stroke-width="1.1" stroke-opacity="0.85"/>
<rect x="1052.9" y="1250.4" width="4.5" height="13.9" fill="#262a36"/>
<path d="M1061.0 1230.0V1251.6" stroke="#262a36" stroke-width="1.1" stroke-opacity="0.85"/>
<rect x="1058.8" y="1245.7" width="4.5" height="5.1" fill="#262a36"/>
<path d="M1067.0 1223.0V1247.8" stroke="#262a36" stroke-width="1.1" stroke-opacity="0.85"/>
<rect x="1064.7" y="1227.2" width="4.5" height="18.7" fill="#262a36"/>
<path d="M1072.9 1183.7V1235.4" stroke="#262a36" stroke-width="1.1" stroke-opacity="0.85"/>
<rect x="1070.7" y="1191.4" width="4.5" height="36.2" fill="#262a36"/>
<path d="M1078.9 1107.7V1191.9" stroke="#262a36" stroke-width="1.1" stroke-opacity="0.85"/>
<rect x="1076.6" y="1128.1" width="4.5" height="63.3" fill="#262a36"/>
<path d="M1084.8 1049.6V1136.9" stroke="#262a36" stroke-width="1.1" stroke-opacity="0.85"/>
<rect x="1082.5" y="1056.6" width="4.5" height="72.1" fill="#262a36"/>
<path d="M1090.7 954.7V1059.1" stroke="#262a36" stroke-width="1.1" stroke-opacity="0.85"/>
<rect x="1088.5" y="990.9" width="4.5" height="66.3" fill="#262a36"/>
<path d="M1096.7 983.8V1015.7" stroke="#d93331" stroke-width="1.1" stroke-opacity="0.85"/>
<rect x="1094.4" y="990.9" width="4.5" height="4.9" fill="#d93331"/>
<path d="M1102.6 958.1V1012.8" stroke="#262a36" stroke-width="1.1" stroke-opacity="0.85"/>
<rect x="1100.4" y="977.2" width="4.5" height="18.6" fill="#262a36"/>
<path d="M1108.6 950.5V998.7" stroke="#d93331" stroke-width="1.1" stroke-opacity="0.85"/>
<rect x="1106.3" y="977.2" width="4.5" height="4.4" fill="#d93331"/>
<path d="M1114.5 947.6V1026.1" stroke="#d93331" stroke-width="1.1" stroke-opacity="0.85"/>
<rect x="1112.2" y="981.0" width="4.5" height="28.0" fill="#d93331"/>
<path d="M1120.4 978.1V1009.6" stroke="#262a36" stroke-width="1.1" stroke-opacity="0.85"/>
<rect x="1118.2" y="985.2" width="4.5" height="23.8" fill="#262a36"/>
<path d="M1126.4 884.3V997.2" stroke="#262a36" stroke-width="1.1" stroke-opacity="0.85"/>
<rect x="1124.1" y="890.9" width="4.5" height="94.3" fill="#262a36"/>
<path d="M1132.3 850.2V903.5" stroke="#262a36" stroke-width="1.1" stroke-opacity="0.85"/>
<rect x="1130.1" y="884.3" width="4.5" height="6.6" fill="#262a36"/>
<path d="M1138.3 866.2V911.5" stroke="#d93331" stroke-width="1.1" stroke-opacity="0.85"/>
<rect x="1136.0" y="884.3" width="4.5" height="4.0" fill="#d93331"/>
<path d="M1144.2 860.6V901.6" stroke="#262a36" stroke-width="1.1" stroke-opacity="0.85"/>
<rect x="1142.0" y="876.3" width="4.5" height="12.0" fill="#262a36"/>
<path d="M1150.1 862.4V901.6" stroke="#d93331" stroke-width="1.1" stroke-opacity="0.85"/>
<rect x="1147.9" y="876.3" width="4.5" height="17.1" fill="#d93331"/>
<path d="M1156.1 823.9V909.6" stroke="#262a36" stroke-width="1.1" stroke-opacity="0.85"/>
<rect x="1153.8" y="868.6" width="4.5" height="24.2" fill="#262a36"/>
<path d="M1162.0 855.9V879.1" stroke="#d93331" stroke-width="1.1" stroke-opacity="0.85"/>
<rect x="1159.8" y="868.3" width="4.5" height="3.2" fill="#d93331"/>
<path d="M1168.0 843.3V898.2" stroke="#262a36" stroke-width="1.1" stroke-opacity="0.85"/>
<rect x="1165.7" y="867.7" width="4.5" height="3.8" fill="#262a36"/>
<path d="M1173.9 860.6V877.2" stroke="#d93331" stroke-width="1.1" stroke-opacity="0.85"/>
<rect x="1171.7" y="867.7" width="4.5" height="2.8" fill="#d93331"/>
<path d="M1179.8 819.1V872.4" stroke="#262a36" stroke-width="1.1" stroke-opacity="0.85"/>
<rect x="1177.6" y="830.9" width="4.5" height="39.6" fill="#262a36"/>
<path d="M1185.8 827.3V900.1" stroke="#d93331" stroke-width="1.1" stroke-opacity="0.85"/>
<rect x="1183.5" y="830.5" width="4.5" height="51.1" fill="#d93331"/>
<path d="M1191.7 850.9V886.2" stroke="#262a36" stroke-width="1.1" stroke-opacity="0.85"/>
<rect x="1189.5" y="864.8" width="4.5" height="16.8" fill="#262a36"/>
<path d="M1197.7 824.2V884.5" stroke="#262a36" stroke-width="1.1" stroke-opacity="0.85"/>
<rect x="1195.4" y="831.5" width="4.5" height="33.3" fill="#262a36"/>
<path d="M1203.6 802.3V850.9" stroke="#d93331" stroke-width="1.1" stroke-opacity="0.85"/>
<rect x="1201.4" y="831.9" width="4.5" height="12.5" fill="#d93331"/>
<path d="M1209.5 831.9V860.1" stroke="#d93331" stroke-width="1.1" stroke-opacity="0.85"/>
<rect x="1207.3" y="844.4" width="4.5" height="2.9" fill="#d93331"/>
<path d="M1215.5 839.5V855.9" stroke="#d93331" stroke-width="1.1" stroke-opacity="0.85"/>
<rect x="1213.2" y="847.1" width="4.5" height="6.9" fill="#d93331"/>
<path d="M1221.4 847.7V884.5" stroke="#d93331" stroke-width="1.1" stroke-opacity="0.85"/>
<rect x="1219.2" y="854.0" width="4.5" height="21.7" fill="#d93331"/>
<path d="M1227.4 862.9V892.8" stroke="#d93331" stroke-width="1.1" stroke-opacity="0.85"/>
<rect x="1225.1" y="875.3" width="4.5" height="9.9" fill="#d93331"/>
<path d="M1233.3 851.5V885.2" stroke="#262a36" stroke-width="1.1" stroke-opacity="0.85"/>
<rect x="1231.1" y="858.2" width="4.5" height="27.0" fill="#262a36"/>
<path d="M1239.2 846.3V889.0" stroke="#d93331" stroke-width="1.1" stroke-opacity="0.85"/>
<rect x="1237.0" y="858.2" width="4.5" height="15.2" fill="#d93331"/>
<path d="M1245.2 870.5V945.7" stroke="#d93331" stroke-width="1.1" stroke-opacity="0.85"/>
<rect x="1242.9" y="873.0" width="4.5" height="68.0" fill="#d93331"/>
<path d="M1251.1 932.0V961.9" stroke="#d93331" stroke-width="1.1" stroke-opacity="0.85"/>
<rect x="1248.9" y="940.6" width="4.5" height="10.8" fill="#d93331"/>
<path d="M1257.1 935.3V951.8" stroke="#262a36" stroke-width="1.1" stroke-opacity="0.85"/>
<rect x="1254.8" y="937.2" width="4.5" height="14.2" fill="#262a36"/>
<path d="M1263.0 923.4V950.5" stroke="#d93331" stroke-width="1.1" stroke-opacity="0.85"/>
<rect x="1260.8" y="937.2" width="4.5" height="4.3" fill="#d93331"/>
<path d="M1268.9 935.3V967.6" stroke="#d93331" stroke-width="1.1" stroke-opacity="0.85"/>
<rect x="1266.7" y="941.0" width="4.5" height="1.3" fill="#d93331"/>
<path d="M1274.9 910.5V956.6" stroke="#262a36" stroke-width="1.1" stroke-opacity="0.85"/>
<rect x="1272.6" y="918.1" width="4.5" height="24.2" fill="#262a36"/>
<path d="M1280.8 793.9V926.3" stroke="#262a36" stroke-width="1.1" stroke-opacity="0.85"/>
<rect x="1278.6" y="799.7" width="4.5" height="118.4" fill="#262a36"/>
<path d="M1286.8 749.5V843.9" stroke="#d93331" stroke-width="1.1" stroke-opacity="0.85"/>
<rect x="1284.5" y="799.7" width="4.5" height="43.8" fill="#d93331"/>
<path d="M1292.7 763.3V852.4" stroke="#262a36" stroke-width="1.1" stroke-opacity="0.85"/>
<rect x="1290.5" y="786.1" width="4.5" height="57.4" fill="#262a36"/>
<path d="M1298.6 770.9V793.8" stroke="#262a36" stroke-width="1.1" stroke-opacity="0.85"/>
<rect x="1296.4" y="783.3" width="4.5" height="2.8" fill="#262a36"/>
<path d="M1304.6 754.3V807.7" stroke="#d93331" stroke-width="1.1" stroke-opacity="0.85"/>
<rect x="1302.3" y="783.3" width="4.5" height="19.6" fill="#d93331"/>
<path d="M1310.5 757.2V826.1" stroke="#262a36" stroke-width="1.1" stroke-opacity="0.85"/>
<rect x="1308.3" y="772.4" width="4.5" height="30.5" fill="#262a36"/>
<path d="M1316.5 749.5V809.0" stroke="#d93331" stroke-width="1.1" stroke-opacity="0.85"/>
<rect x="1314.2" y="772.4" width="4.5" height="20.6" fill="#d93331"/>
<path d="M1322.4 791.5V839.5" stroke="#d93331" stroke-width="1.1" stroke-opacity="0.85"/>
<rect x="1320.2" y="792.8" width="4.5" height="15.2" fill="#d93331"/>
<path d="M1328.3 785.2V838.7" stroke="#d93331" stroke-width="1.1" stroke-opacity="0.85"/>
<rect x="1326.1" y="807.7" width="4.5" height="12.7" fill="#d93331"/>
<path d="M1334.3 810.5V882.5" stroke="#d93331" stroke-width="1.1" stroke-opacity="0.85"/>
<rect x="1332.0" y="820.0" width="4.5" height="42.0" fill="#d93331"/>
<path d="M1340.2 859.7V887.3" stroke="#d93331" stroke-width="1.1" stroke-opacity="0.85"/>
<rect x="1338.0" y="861.6" width="4.5" height="1.3" fill="#d93331"/>
<path d="M1346.2 834.0V867.7" stroke="#262a36" stroke-width="1.1" stroke-opacity="0.85"/>
<rect x="1343.9" y="841.4" width="4.5" height="21.1" fill="#262a36"/>
<path d="M1352.1 822.9V865.8" stroke="#d93331" stroke-width="1.1" stroke-opacity="0.85"/>
<rect x="1349.9" y="841.4" width="4.5" height="4.4" fill="#d93331"/>
<path d="M1358.0 838.7V870.5" stroke="#d93331" stroke-width="1.1" stroke-opacity="0.85"/>
<rect x="1355.8" y="845.2" width="4.5" height="19.6" fill="#d93331"/>
<path d="M1364.0 815.3V869.6" stroke="#262a36" stroke-width="1.1" stroke-opacity="0.85"/>
<rect x="1361.7" y="836.4" width="4.5" height="28.4" fill="#262a36"/>
<path d="M1369.9 829.0V860.1" stroke="#d93331" stroke-width="1.1" stroke-opacity="0.85"/>
<rect x="1367.7" y="836.4" width="4.5" height="10.3" fill="#d93331"/>
<path d="M1375.9 844.8V933.4" stroke="#d93331" stroke-width="1.1" stroke-opacity="0.85"/>
<rect x="1373.6" y="846.3" width="4.5" height="62.4" fill="#d93331"/>
<path d="M1381.8 904.8V919.7" stroke="#d93331" stroke-width="1.1" stroke-opacity="0.85"/>
<rect x="1379.6" y="908.0" width="4.5" height="1.4" fill="#d93331"/>
<path d="M1387.7 890.2V918.2" stroke="#262a36" stroke-width="1.1" stroke-opacity="0.85"/>
<rect x="1385.5" y="904.5" width="4.5" height="5.1" fill="#262a36"/>
<path d="M1393.7 894.4V914.4" stroke="#d93331" stroke-width="1.1" stroke-opacity="0.85"/>
<rect x="1391.4" y="904.1" width="4.5" height="1.4" fill="#d93331"/>
<path d="M1399.6 898.2V932.1" stroke="#d93331" stroke-width="1.1" stroke-opacity="0.85"/>
<rect x="1397.4" y="905.2" width="4.5" height="13.0" fill="#d93331"/>
<path d="M1405.6 912.5V954.4" stroke="#d93331" stroke-width="1.1" stroke-opacity="0.85"/>
<rect x="1403.3" y="918.2" width="4.5" height="28.2" fill="#d93331"/>
<path d="M1411.5 938.2V1049.6" stroke="#d93331" stroke-width="1.1" stroke-opacity="0.85"/>
<rect x="1409.3" y="946.2" width="4.5" height="83.0" fill="#d93331"/>
<path d="M1417.4 1026.7V1080.1" stroke="#d93331" stroke-width="1.1" stroke-opacity="0.85"/>
<rect x="1415.2" y="1028.1" width="4.5" height="14.4" fill="#d93331"/>
<path d="M1423.4 1008.2V1065.8" stroke="#262a36" stroke-width="1.1" stroke-opacity="0.85"/>
<rect x="1421.1" y="1022.9" width="4.5" height="19.6" fill="#262a36"/>
<path d="M1429.3 921.0V1033.8" stroke="#262a36" stroke-width="1.1" stroke-opacity="0.85"/>
<rect x="1427.1" y="929.6" width="4.5" height="93.3" fill="#262a36"/>
<path d="M1435.3 787.3V939.7" stroke="#262a36" stroke-width="1.1" stroke-opacity="0.85"/>
<rect x="1433.0" y="811.1" width="4.5" height="118.5" fill="#262a36"/>
<path d="M1441.2 690.1V818.5" stroke="#262a36" stroke-width="1.1" stroke-opacity="0.85"/>
<rect x="1439.0" y="781.4" width="4.5" height="30.1" fill="#262a36"/>
<path d="M1447.1 754.3V823.5" stroke="#d93331" stroke-width="1.1" stroke-opacity="0.85"/>
<rect x="1444.9" y="781.4" width="4.5" height="20.5" fill="#d93331"/>
<path d="M1453.1 756.6V809.9" stroke="#262a36" stroke-width="1.1" stroke-opacity="0.85"/>
<rect x="1450.8" y="765.2" width="4.5" height="36.7" fill="#262a36"/>
<path d="M1459.0 630.6V770.1" stroke="#262a36" stroke-width="1.1" stroke-opacity="0.85"/>
<rect x="1456.8" y="648.5" width="4.5" height="116.7" fill="#262a36"/>
<path d="M1465.0 632.9V687.2" stroke="#d93331" stroke-width="1.1" stroke-opacity="0.85"/>
<rect x="1462.7" y="648.5" width="4.5" height="22.5" fill="#d93331"/>
<path d="M1470.9 600.5V673.9" stroke="#262a36" stroke-width="1.1" stroke-opacity="0.85"/>
<rect x="1468.7" y="621.5" width="4.5" height="49.5" fill="#262a36"/>
<path d="M1476.8 598.1V659.6" stroke="#d93331" stroke-width="1.1" stroke-opacity="0.85"/>
<rect x="1474.6" y="621.5" width="4.5" height="12.0" fill="#d93331"/>
<path d="M1482.8 598.1V651.6" stroke="#262a36" stroke-width="1.1" stroke-opacity="0.85"/>
<rect x="1480.5" y="615.8" width="4.5" height="17.7" fill="#262a36"/>
<path d="M1488.7 578.6V686.3" stroke="#d93331" stroke-width="1.1" stroke-opacity="0.85"/>
<rect x="1486.5" y="615.8" width="4.5" height="40.0" fill="#d93331"/>
<path d="M1494.7 584.7V660.0" stroke="#262a36" stroke-width="1.1" stroke-opacity="0.85"/>
<rect x="1492.4" y="606.8" width="4.5" height="49.0" fill="#262a36"/>
<path d="M1500.6 603.4V667.2" stroke="#d93331" stroke-width="1.1" stroke-opacity="0.85"/>
<rect x="1498.4" y="606.8" width="4.5" height="38.9" fill="#d93331"/>
<path d="M1506.5 629.1V659.2" stroke="#262a36" stroke-width="1.1" stroke-opacity="0.85"/>
<rect x="1504.3" y="644.4" width="4.5" height="1.3" fill="#262a36"/>
<path d="M1512.5 611.0V646.3" stroke="#262a36" stroke-width="1.1" stroke-opacity="0.85"/>
<rect x="1510.2" y="621.5" width="4.5" height="23.4" fill="#262a36"/>
<path d="M1518.4 619.6V691.0" stroke="#d93331" stroke-width="1.1" stroke-opacity="0.85"/>
<rect x="1516.2" y="621.5" width="4.5" height="40.0" fill="#d93331"/>
<path d="M1524.4 642.4V683.4" stroke="#262a36" stroke-width="1.1" stroke-opacity="0.85"/>
<rect x="1522.1" y="654.5" width="4.5" height="7.0" fill="#262a36"/>
<path d="M1530.3 591.0V654.8" stroke="#262a36" stroke-width="1.1" stroke-opacity="0.85"/>
<rect x="1528.1" y="605.3" width="4.5" height="49.2" fill="#262a36"/>
<path d="M1536.2 566.2V635.4" stroke="#d93331" stroke-width="1.1" stroke-opacity="0.85"/>
<rect x="1534.0" y="605.3" width="4.5" height="14.3" fill="#d93331"/>
<path d="M1542.2 589.7V641.5" stroke="#262a36" stroke-width="1.1" stroke-opacity="0.85"/>
<rect x="1539.9" y="599.6" width="4.5" height="20.0" fill="#262a36"/>
<path d="M1548.1 581.5V610.6" stroke="#d93331" stroke-width="1.1" stroke-opacity="0.85"/>
<rect x="1545.9" y="599.3" width="4.5" height="1.4" fill="#d93331"/>
<path d="M1554.1 595.8V625.3" stroke="#d93331" stroke-width="1.1" stroke-opacity="0.85"/>
<rect x="1551.8" y="600.1" width="4.5" height="12.4" fill="#d93331"/>
<path d="M1560.0 593.9V657.3" stroke="#d93331" stroke-width="1.1" stroke-opacity="0.85"/>
<rect x="1557.8" y="612.5" width="4.5" height="17.2" fill="#d93331"/>
<path d="M1565.9 599.2V635.4" stroke="#262a36" stroke-width="1.1" stroke-opacity="0.85"/>
<rect x="1563.7" y="612.9" width="4.5" height="16.8" fill="#262a36"/>
<path d="M1571.9 583.8V629.7" stroke="#262a36" stroke-width="1.1" stroke-opacity="0.85"/>
<rect x="1569.6" y="611.8" width="4.5" height="1.4" fill="#262a36"/>
<path d="M1577.8 612.0V634.3" stroke="#d93331" stroke-width="1.1" stroke-opacity="0.85"/>
<rect x="1575.6" y="612.0" width="4.5" height="7.0" fill="#d93331"/>
<path d="M1583.8 615.8V630.1" stroke="#d93331" stroke-width="1.1" stroke-opacity="0.85"/>
<rect x="1581.5" y="618.6" width="4.5" height="6.1" fill="#d93331"/>
<path d="M1589.7 612.0V625.3" stroke="#262a36" stroke-width="1.1" stroke-opacity="0.85"/>
<rect x="1587.5" y="622.4" width="4.5" height="2.3" fill="#262a36"/>
<path d="M1595.6 595.8V629.7" stroke="#262a36" stroke-width="1.1" stroke-opacity="0.85"/>
<rect x="1593.4" y="605.3" width="4.5" height="17.5" fill="#262a36"/>
<path d="M1601.6 537.1V612.5" stroke="#262a36" stroke-width="1.1" stroke-opacity="0.85"/>
<rect x="1599.3" y="546.8" width="4.5" height="58.5" fill="#262a36"/>
<path d="M1607.5 507.2V547.2" stroke="#262a36" stroke-width="1.1" stroke-opacity="0.85"/>
<rect x="1605.3" y="523.7" width="4.5" height="23.5" fill="#262a36"/>
<path d="M1613.5 511.0V545.3" stroke="#d93331" stroke-width="1.1" stroke-opacity="0.85"/>
<rect x="1611.2" y="523.7" width="4.5" height="13.0" fill="#d93331"/>
<path d="M1619.4 506.2V537.1" stroke="#262a36" stroke-width="1.1" stroke-opacity="0.85"/>
<rect x="1617.2" y="516.1" width="4.5" height="20.6" fill="#262a36"/>
<path d="M1625.3 486.8V533.3" stroke="#262a36" stroke-width="1.1" stroke-opacity="0.85"/>
<rect x="1623.1" y="513.4" width="4.5" height="2.7" fill="#262a36"/>
<path d="M1631.3 506.2V522.4" stroke="#d93331" stroke-width="1.1" stroke-opacity="0.85"/>
<rect x="1629.0" y="513.4" width="4.5" height="5.8" fill="#d93331"/>
<path d="M1637.2 507.2V525.3" stroke="#262a36" stroke-width="1.1" stroke-opacity="0.85"/>
<rect x="1635.0" y="518.0" width="4.5" height="1.2" fill="#262a36"/>
<path d="M1643.2 517.6V565.3" stroke="#d93331" stroke-width="1.1" stroke-opacity="0.85"/>
<rect x="1640.9" y="518.6" width="4.5" height="38.1" fill="#d93331"/>
<path d="M1649.1 510.0V571.4" stroke="#262a36" stroke-width="1.1" stroke-opacity="0.85"/>
<rect x="1646.9" y="515.2" width="4.5" height="41.5" fill="#262a36"/>
<path d="M1655.0 513.4V592.9" stroke="#d93331" stroke-width="1.1" stroke-opacity="0.85"/>
<rect x="1652.8" y="514.8" width="4.5" height="69.0" fill="#d93331"/>
<path d="M1661.0 571.4V619.2" stroke="#d93331" stroke-width="1.1" stroke-opacity="0.85"/>
<rect x="1658.7" y="583.8" width="4.5" height="25.3" fill="#d93331"/>
<path d="M1666.9 603.4V663.4" stroke="#d93331" stroke-width="1.1" stroke-opacity="0.85"/>
<rect x="1664.7" y="608.7" width="4.5" height="46.1" fill="#d93331"/>
<path d="M1672.9 625.3V659.2" stroke="#262a36" stroke-width="1.1" stroke-opacity="0.85"/>
<rect x="1670.6" y="629.7" width="4.5" height="25.1" fill="#262a36"/>
<path d="M1678.8 627.8V650.6" stroke="#d93331" stroke-width="1.1" stroke-opacity="0.85"/>
<rect x="1676.6" y="629.3" width="4.5" height="9.9" fill="#d93331"/>
<path d="M1684.7 620.5V669.1" stroke="#d93331" stroke-width="1.1" stroke-opacity="0.85"/>
<rect x="1682.5" y="639.0" width="4.5" height="4.0" fill="#d93331"/>
<path d="M1690.7 602.4V656.4" stroke="#262a36" stroke-width="1.1" stroke-opacity="0.85"/>
<rect x="1688.4" y="606.8" width="4.5" height="36.2" fill="#262a36"/>
<path d="M1696.6 528.7V655.8" stroke="#262a36" stroke-width="1.1" stroke-opacity="0.85"/>
<rect x="1694.4" y="601.5" width="4.5" height="5.3" fill="#262a36"/>
<path d="M1702.6 536.3V601.5" stroke="#262a36" stroke-width="1.1" stroke-opacity="0.85"/>
<rect x="1700.3" y="554.4" width="4.5" height="47.1" fill="#262a36"/>
<path d="M1708.5 548.1V579.6" stroke="#d93331" stroke-width="1.1" stroke-opacity="0.85"/>
<rect x="1706.3" y="554.4" width="4.5" height="7.1" fill="#d93331"/>
<path d="M1714.4 555.4V572.9" stroke="#d93331" stroke-width="1.1" stroke-opacity="0.85"/>
<rect x="1712.2" y="561.5" width="4.5" height="3.8" fill="#d93331"/>
<path d="M1720.4 533.3V570.6" stroke="#262a36" stroke-width="1.1" stroke-opacity="0.85"/>
<rect x="1718.1" y="564.3" width="4.5" height="1.4" fill="#262a36"/>
<path d="M1726.3 561.1V635.4" stroke="#d93331" stroke-width="1.1" stroke-opacity="0.85"/>
<rect x="1724.1" y="564.7" width="4.5" height="53.0" fill="#d93331"/>
<path d="M1732.3 581.1V625.3" stroke="#262a36" stroke-width="1.1" stroke-opacity="0.85"/>
<rect x="1730.0" y="589.7" width="4.5" height="28.0" fill="#262a36"/>
<path d="M1738.2 563.4V615.8" stroke="#262a36" stroke-width="1.1" stroke-opacity="0.85"/>
<rect x="1736.0" y="574.2" width="4.5" height="15.5" fill="#262a36"/>
<path d="M1744.1 557.7V590.4" stroke="#d93331" stroke-width="1.1" stroke-opacity="0.85"/>
<rect x="1741.9" y="574.2" width="4.5" height="8.6" fill="#d93331"/>
<path d="M1750.1 544.9V584.9" stroke="#262a36" stroke-width="1.1" stroke-opacity="0.85"/>
<rect x="1747.8" y="552.3" width="4.5" height="30.5" fill="#262a36"/>
<path d="M1756.0 538.0V603.4" stroke="#d93331" stroke-width="1.1" stroke-opacity="0.85"/>
<rect x="1753.8" y="552.3" width="4.5" height="29.7" fill="#d93331"/>
<path d="M1762.0 569.1V604.3" stroke="#d93331" stroke-width="1.1" stroke-opacity="0.85"/>
<rect x="1759.7" y="581.9" width="4.5" height="19.6" fill="#d93331"/>
<path d="M1767.9 592.0V653.9" stroke="#d93331" stroke-width="1.1" stroke-opacity="0.85"/>
<rect x="1765.7" y="601.1" width="4.5" height="34.7" fill="#d93331"/>
<path d="M1773.8 628.2V648.2" stroke="#d93331" stroke-width="1.1" stroke-opacity="0.85"/>
<rect x="1771.6" y="635.4" width="4.5" height="1.9" fill="#d93331"/>
<path d="M1779.8 605.7V679.6" stroke="#d93331" stroke-width="1.1" stroke-opacity="0.85"/>
<rect x="1777.5" y="637.1" width="4.5" height="1.5" fill="#d93331"/>
<path d="M1785.7 635.8V680.6" stroke="#d93331" stroke-width="1.1" stroke-opacity="0.85"/>
<rect x="1783.5" y="638.3" width="4.5" height="30.3" fill="#d93331"/>
<path d="M1791.7 662.5V726.3" stroke="#d93331" stroke-width="1.1" stroke-opacity="0.85"/>
<rect x="1789.4" y="668.2" width="4.5" height="8.5" fill="#d93331"/>
<path d="M1797.6 664.4V680.6" stroke="#d93331" stroke-width="1.1" stroke-opacity="0.85"/>
<rect x="1795.4" y="676.4" width="4.5" height="1.7" fill="#d93331"/>
<path d="M1803.5 656.4V687.2" stroke="#262a36" stroke-width="1.1" stroke-opacity="0.85"/>
<rect x="1801.3" y="671.0" width="4.5" height="6.7" fill="#262a36"/>
<path d="M1809.5 636.4V679.6" stroke="#262a36" stroke-width="1.1" stroke-opacity="0.85"/>
<rect x="1807.2" y="659.2" width="4.5" height="11.8" fill="#262a36"/>
<path d="M1815.4 652.5V672.4" stroke="#d93331" stroke-width="1.1" stroke-opacity="0.85"/>
<rect x="1813.2" y="659.2" width="4.5" height="5.7" fill="#d93331"/>
<path d="M1821.4 640.5V690.1" stroke="#262a36" stroke-width="1.1" stroke-opacity="0.85"/>
<rect x="1819.1" y="647.6" width="4.5" height="17.3" fill="#262a36"/>
<path d="M1827.3 644.4V697.1" stroke="#d93331" stroke-width="1.1" stroke-opacity="0.85"/>
<rect x="1825.1" y="647.2" width="4.5" height="28.6" fill="#d93331"/>
<path d="M1833.2 658.3V684.4" stroke="#262a36" stroke-width="1.1" stroke-opacity="0.85"/>
<rect x="1831.0" y="672.9" width="4.5" height="2.9" fill="#262a36"/>
<path d="M1839.2 660.2V673.5" stroke="#262a36" stroke-width="1.1" stroke-opacity="0.85"/>
<rect x="1836.9" y="662.5" width="4.5" height="10.4" fill="#262a36"/>
<path d="M1845.1 652.6V681.2" stroke="#d93331" stroke-width="1.1" stroke-opacity="0.85"/>
<rect x="1842.9" y="662.1" width="4.5" height="17.1" fill="#d93331"/>
<path d="M1851.1 661.8V688.3" stroke="#262a36" stroke-width="1.1" stroke-opacity="0.85"/>
<rect x="1848.8" y="674.0" width="4.5" height="5.2" fill="#262a36"/>
<path d="M1857.0 642.7V675.6" stroke="#262a36" stroke-width="1.1" stroke-opacity="0.85"/>
<rect x="1854.8" y="656.2" width="4.5" height="17.8" fill="#262a36"/>
<path d="M1862.9 655.7V710.5" stroke="#d93331" stroke-width="1.1" stroke-opacity="0.85"/>
<rect x="1860.7" y="656.2" width="4.5" height="43.2" fill="#d93331"/>
<path d="M1868.9 683.5V721.2" stroke="#262a36" stroke-width="1.1" stroke-opacity="0.85"/>
<rect x="1866.6" y="692.3" width="4.5" height="7.1" fill="#262a36"/>
<path d="M1874.8 669.7V698.3" stroke="#262a36" stroke-width="1.1" stroke-opacity="0.85"/>
<rect x="1872.6" y="680.7" width="4.5" height="11.6" fill="#262a36"/>
<path d="M1880.8 670.8V687.5" stroke="#262a36" stroke-width="1.1" stroke-opacity="0.85"/>
<rect x="1878.5" y="673.5" width="4.5" height="7.2" fill="#262a36"/>
<path d="M1886.7 606.8V676.7" stroke="#262a36" stroke-width="1.1" stroke-opacity="0.85"/>
<rect x="1884.5" y="617.3" width="4.5" height="56.7" fill="#262a36"/>
<path d="M1892.6 598.9V640.7" stroke="#d93331" stroke-width="1.1" stroke-opacity="0.85"/>
<rect x="1890.4" y="617.3" width="4.5" height="15.4" fill="#d93331"/>
<path d="M1898.6 617.6V639.1" stroke="#d93331" stroke-width="1.1" stroke-opacity="0.85"/>
<rect x="1896.3" y="632.4" width="4.5" height="1.9" fill="#d93331"/>
<path d="M1904.5 627.2V673.5" stroke="#d93331" stroke-width="1.1" stroke-opacity="0.85"/>
<rect x="1902.3" y="634.0" width="4.5" height="22.5" fill="#d93331"/>
<path d="M1910.5 649.9V686.2" stroke="#d93331" stroke-width="1.1" stroke-opacity="0.85"/>
<rect x="1908.2" y="656.2" width="4.5" height="18.6" fill="#d93331"/>
<path d="M1916.4 652.6V690.4" stroke="#262a36" stroke-width="1.1" stroke-opacity="0.85"/>
<rect x="1914.2" y="654.2" width="4.5" height="20.6" fill="#262a36"/>
<path d="M1922.3 650.7V669.2" stroke="#d93331" stroke-width="1.1" stroke-opacity="0.85"/>
<rect x="1920.1" y="654.2" width="4.5" height="9.5" fill="#d93331"/>
<path d="M1928.3 644.6V668.1" stroke="#262a36" stroke-width="1.1" stroke-opacity="0.85"/>
<rect x="1926.0" y="661.3" width="4.5" height="2.1" fill="#262a36"/>
<path d="M1934.2 659.7V745.9" stroke="#d93331" stroke-width="1.1" stroke-opacity="0.85"/>
<rect x="1932.0" y="660.8" width="4.5" height="67.5" fill="#d93331"/>
<path d="M1940.2 649.4V747.5" stroke="#262a36" stroke-width="1.1" stroke-opacity="0.85"/>
<rect x="1937.9" y="656.2" width="4.5" height="72.1" fill="#262a36"/>
<path d="M1946.1 647.5V707.4" stroke="#d93331" stroke-width="1.1" stroke-opacity="0.85"/>
<rect x="1943.9" y="656.2" width="4.5" height="43.2" fill="#d93331"/>
<path d="M1952.0 674.5V703.7" stroke="#262a36" stroke-width="1.1" stroke-opacity="0.85"/>
<rect x="1949.8" y="691.5" width="4.5" height="7.9" fill="#262a36"/>
<path d="M1958.0 676.1V700.5" stroke="#d93331" stroke-width="1.1" stroke-opacity="0.85"/>
<rect x="1955.7" y="690.9" width="4.5" height="1.4" fill="#d93331"/>
<path d="M1963.9 688.3V746.3" stroke="#d93331" stroke-width="1.1" stroke-opacity="0.85"/>
<rect x="1961.7" y="691.0" width="4.5" height="32.6" fill="#d93331"/>
<path d="M1969.9 704.7V732.8" stroke="#262a36" stroke-width="1.1" stroke-opacity="0.85"/>
<rect x="1967.6" y="718.5" width="4.5" height="5.1" fill="#262a36"/>
<path d="M1975.8 709.4V733.9" stroke="#d93331" stroke-width="1.1" stroke-opacity="0.85"/>
<rect x="1973.6" y="718.3" width="4.5" height="1.4" fill="#d93331"/>
<path d="M1981.7 694.2V728.0" stroke="#262a36" stroke-width="1.1" stroke-opacity="0.85"/>
<rect x="1979.5" y="718.2" width="4.5" height="1.4" fill="#262a36"/>
<path d="M1987.7 709.7V775.6" stroke="#d93331" stroke-width="1.1" stroke-opacity="0.85"/>
<rect x="1985.4" y="718.2" width="4.5" height="41.2" fill="#d93331"/>
<path d="M1993.6 727.2V775.3" stroke="#262a36" stroke-width="1.1" stroke-opacity="0.85"/>
<rect x="1991.4" y="735.1" width="4.5" height="24.3" fill="#262a36"/>
<path d="M1999.6 690.4V756.6" stroke="#262a36" stroke-width="1.1" stroke-opacity="0.85"/>
<rect x="1997.3" y="699.1" width="4.5" height="36.0" fill="#262a36"/>
<path d="M2005.5 672.1V705.8" stroke="#262a36" stroke-width="1.1" stroke-opacity="0.85"/>
<rect x="2003.3" y="690.2" width="4.5" height="8.9" fill="#262a36"/>
<path d="M2011.4 680.4V701.8" stroke="#d93331" stroke-width="1.1" stroke-opacity="0.85"/>
<rect x="2009.2" y="690.2" width="4.5" height="8.4" fill="#d93331"/>
<path d="M2017.4 663.4V701.0" stroke="#262a36" stroke-width="1.1" stroke-opacity="0.85"/>
<rect x="2015.1" y="674.8" width="4.5" height="23.8" fill="#262a36"/>
<path d="M2023.3 602.6V682.7" stroke="#262a36" stroke-width="1.1" stroke-opacity="0.85"/>
<rect x="2021.1" y="606.8" width="4.5" height="68.0" fill="#262a36"/>
<path d="M2029.3 497.3V608.5" stroke="#262a36" stroke-width="1.1" stroke-opacity="0.85"/>
<rect x="2027.0" y="531.2" width="4.5" height="76.4" fill="#262a36"/>
<path d="M2035.2 509.8V553.2" stroke="#d93331" stroke-width="1.1" stroke-opacity="0.85"/>
<rect x="2033.0" y="531.2" width="4.5" height="5.5" fill="#d93331"/>
<path d="M2041.1 471.3V539.5" stroke="#262a36" stroke-width="1.1" stroke-opacity="0.85"/>
<rect x="2038.9" y="502.0" width="4.5" height="34.7" fill="#262a36"/>
<path d="M2047.1 497.3V519.9" stroke="#d93331" stroke-width="1.1" stroke-opacity="0.85"/>
<rect x="2044.8" y="502.0" width="4.5" height="7.7" fill="#d93331"/>
<path d="M2053.0 487.8V518.9" stroke="#d93331" stroke-width="1.1" stroke-opacity="0.85"/>
<rect x="2050.8" y="509.0" width="4.5" height="3.3" fill="#d93331"/>
<path d="M2059.0 503.3V533.9" stroke="#d93331" stroke-width="1.1" stroke-opacity="0.85"/>
<rect x="2056.7" y="512.2" width="4.5" height="7.7" fill="#d93331"/>
<path d="M2064.9 489.5V520.8" stroke="#262a36" stroke-width="1.1" stroke-opacity="0.85"/>
<rect x="2062.7" y="502.2" width="4.5" height="17.7" fill="#262a36"/>
<path d="M2070.8 501.8V538.6" stroke="#d93331" stroke-width="1.1" stroke-opacity="0.85"/>
<rect x="2068.6" y="502.2" width="4.5" height="26.6" fill="#d93331"/>
<path d="M2076.8 496.3V529.7" stroke="#262a36" stroke-width="1.1" stroke-opacity="0.85"/>
<rect x="2074.5" y="513.2" width="4.5" height="15.6" fill="#262a36"/>
<path d="M2082.7 477.0V555.8" stroke="#262a36" stroke-width="1.1" stroke-opacity="0.85"/>
<rect x="2080.5" y="511.0" width="4.5" height="2.2" fill="#262a36"/>
<path d="M2088.7 503.0V517.4" stroke="#262a36" stroke-width="1.1" stroke-opacity="0.85"/>
<rect x="2086.4" y="507.1" width="4.5" height="4.2" fill="#262a36"/>
<path d="M2094.6 497.3V525.3" stroke="#262a36" stroke-width="1.1" stroke-opacity="0.85"/>
<rect x="2092.3" y="505.9" width="4.5" height="1.4" fill="#262a36"/>
<path d="M2100.5 471.9V506.9" stroke="#262a36" stroke-width="1.1" stroke-opacity="0.85"/>
<rect x="2098.3" y="482.7" width="4.5" height="23.9" fill="#262a36"/>
<path d="M2106.5 476.0V504.3" stroke="#d93331" stroke-width="1.1" stroke-opacity="0.85"/>
<rect x="2104.2" y="482.7" width="4.5" height="16.9" fill="#d93331"/>
<path d="M2112.4 494.2V523.4" stroke="#d93331" stroke-width="1.1" stroke-opacity="0.85"/>
<rect x="2110.2" y="499.2" width="4.5" height="12.4" fill="#d93331"/>
<path d="M2118.4 466.2V539.0" stroke="#d93331" stroke-width="1.1" stroke-opacity="0.85"/>
<rect x="2116.1" y="510.9" width="4.5" height="25.8" fill="#d93331"/>
<path d="M2124.3 511.9V545.0" stroke="#262a36" stroke-width="1.1" stroke-opacity="0.85"/>
<rect x="2122.1" y="516.8" width="4.5" height="19.9" fill="#262a36"/>
<path d="M2130.2 513.2V529.7" stroke="#d93331" stroke-width="1.1" stroke-opacity="0.85"/>
<rect x="2128.0" y="516.8" width="4.5" height="2.8" fill="#d93331"/>
<path d="M2136.2 512.3V527.6" stroke="#d93331" stroke-width="1.1" stroke-opacity="0.85"/>
<rect x="2133.9" y="519.6" width="4.5" height="5.0" fill="#d93331"/>
<path d="M2142.1 487.8V533.5" stroke="#262a36" stroke-width="1.1" stroke-opacity="0.85"/>
<rect x="2139.9" y="513.8" width="4.5" height="10.8" fill="#262a36"/>
<path d="M2148.1 496.3V519.9" stroke="#262a36" stroke-width="1.1" stroke-opacity="0.85"/>
<rect x="2145.8" y="505.2" width="4.5" height="8.6" fill="#262a36"/>
<path d="M2154.0 490.3V523.0" stroke="#d93331" stroke-width="1.1" stroke-opacity="0.85"/>
<rect x="2151.8" y="505.2" width="4.5" height="10.9" fill="#d93331"/>
<path d="M2159.9 454.4V519.9" stroke="#262a36" stroke-width="1.1" stroke-opacity="0.85"/>
<rect x="2157.7" y="471.3" width="4.5" height="44.8" fill="#262a36"/>
<path d="M2165.9 463.7V535.7" stroke="#d93331" stroke-width="1.1" stroke-opacity="0.85"/>
<rect x="2163.6" y="471.3" width="4.5" height="47.6" fill="#d93331"/>
<path d="M2171.8 513.8V520.4" stroke="#d93331" stroke-width="1.1" stroke-opacity="0.85"/>
<rect x="2169.6" y="518.5" width="4.5" height="1.7" fill="#d93331"/>
<path d="M2177.8 512.2V528.5" stroke="#d93331" stroke-width="1.1" stroke-opacity="0.85"/>
<rect x="2175.5" y="519.7" width="4.5" height="2.0" fill="#d93331"/>
<path d="M2183.7 517.7V547.5" stroke="#d93331" stroke-width="1.1" stroke-opacity="0.85"/>
<rect x="2181.4" y="521.5" width="4.5" height="4.2" fill="#d93331"/>
<path d="M2189.6 521.7V530.4" stroke="#d93331" stroke-width="1.1" stroke-opacity="0.85"/>
<rect x="2187.4" y="525.3" width="4.5" height="4.4" fill="#d93331"/>
<line x1="1612" y1="477.6" x2="2076.6" y2="686.7" stroke="#ffffff" stroke-width="2.4" stroke-linecap="round"/>
<line x1="1552.4" y1="633.3" x2="2052.8" y2="761.3" stroke="#ffffff" stroke-width="2.4" stroke-linecap="round"/>
<text x="2495.7" y="412.6" font-size="13" letter-spacing="0.72" fill="#1e222d" stroke="#1e222d" stroke-width="0.3" font-weight="normal">33000.0</text>
<text x="2495.7" y="452.6" font-size="13" letter-spacing="0.72" fill="#1e222d" stroke="#1e222d" stroke-width="0.3" font-weight="normal">32000.0</text>
<text x="2495.7" y="492.8" font-size="13" letter-spacing="0.72" fill="#1e222d" stroke="#1e222d" stroke-width="0.3" font-weight="normal">31000.0</text>
<text x="2495.7" y="578.4" font-size="13" letter-spacing="0.72" fill="#1e222d" stroke="#1e222d" stroke-width="0.3" font-weight="normal">29000.0</text>
<text x="2495.7" y="623.5" font-size="13" letter-spacing="0.72" fill="#1e222d" stroke="#1e222d" stroke-width="0.3" font-weight="normal">28000.0</text>
<text x="2495.7" y="661.0" font-size="13" letter-spacing="0.72" fill="#1e222d" stroke="#1e222d" stroke-width="0.3" font-weight="normal">27200.0</text>
<text x="2495.7" y="699.0" font-size="13" letter-spacing="0.72" fill="#1e222d" stroke="#1e222d" stroke-width="0.3" font-weight="normal">26400.0</text>
<text x="2495.7" y="738.2" font-size="13" letter-spacing="0.72" fill="#1e222d" stroke="#1e222d" stroke-width="0.3" font-weight="normal">25600.0</text>
<text x="2495.7" y="778.5" font-size="13" letter-spacing="0.72" fill="#1e222d" stroke="#1e222d" stroke-width="0.3" font-weight="normal">24800.0</text>
<text x="2495.7" y="821.2" font-size="13" letter-spacing="0.72" fill="#1e222d" stroke="#1e222d" stroke-width="0.3" font-weight="normal">24000.0</text>
<text x="2495.7" y="864.1" font-size="13" letter-spacing="0.72" fill="#1e222d" stroke="#1e222d" stroke-width="0.3" font-weight="normal">23200.0</text>
<text x="2495.7" y="909.4" font-size="13" letter-spacing="0.72" fill="#1e222d" stroke="#1e222d" stroke-width="0.3" font-weight="normal">22400.0</text>
<text x="2495.7" y="952.9" font-size="13" letter-spacing="0.72" fill="#1e222d" stroke="#1e222d" stroke-width="0.3" font-weight="normal">21650.0</text>
<text x="2495.7" y="997.7" font-size="13" letter-spacing="0.72" fill="#1e222d" stroke="#1e222d" stroke-width="0.3" font-weight="normal">20900.0</text>
<text x="2495.7" y="1036.0" font-size="13" letter-spacing="0.72" fill="#1e222d" stroke="#1e222d" stroke-width="0.3" font-weight="normal">20300.0</text>
<text x="2495.7" y="1074.5" font-size="13" letter-spacing="0.72" fill="#1e222d" stroke="#1e222d" stroke-width="0.3" font-weight="normal">19700.0</text>
<text x="2495.7" y="1114.5" font-size="13" letter-spacing="0.72" fill="#1e222d" stroke="#1e222d" stroke-width="0.3" font-weight="normal">19100.0</text>
<text x="2495.7" y="1155.2" font-size="13" letter-spacing="0.72" fill="#1e222d" stroke="#1e222d" stroke-width="0.3" font-weight="normal">18500.0</text>
<text x="2495.7" y="1197.0" font-size="13" letter-spacing="0.72" fill="#1e222d" stroke="#1e222d" stroke-width="0.3" font-weight="normal">17900.0</text>
<text x="2495.7" y="1240.5" font-size="13" letter-spacing="0.72" fill="#1e222d" stroke="#1e222d" stroke-width="0.3" font-weight="normal">17300.0</text>
<text x="2495.7" y="1278.2" font-size="13" letter-spacing="0.72" fill="#1e222d" stroke="#1e222d" stroke-width="0.3" font-weight="normal">16800.0</text>
<text x="2495.7" y="1317.0" font-size="13" letter-spacing="0.72" fill="#1e222d" stroke="#1e222d" stroke-width="0.3" font-weight="normal">16300.0</text>
<text x="2495.7" y="1356.5" font-size="13" letter-spacing="0.72" fill="#1e222d" stroke="#1e222d" stroke-width="0.3" font-weight="normal">15800.0</text>
<text x="2495.7" y="1389.5" font-size="13" letter-spacing="0.72" fill="#1e222d" stroke="#1e222d" stroke-width="0.3" font-weight="normal">15400.0</text>
<text x="2495.7" y="1423.2" font-size="13" letter-spacing="0.72" fill="#1e222d" stroke="#1e222d" stroke-width="0.3" font-weight="normal">15000.0</text>
<text x="2495.7" y="1456.5" font-size="13" letter-spacing="0.72" fill="#1e222d" stroke="#1e222d" stroke-width="0.3" font-weight="normal">14620.0</text>
<rect x="2486.2" y="520.2" width="72.8" height="33.6" rx="2.5" fill="#f34335"/>
<text x="2495.7" y="534.0" font-size="13" letter-spacing="0.72" fill="#ffffff" stroke="#ffffff" stroke-width="0.2" font-weight="normal">30035.2</text>
<text x="2495.7" y="549.7" font-size="13" letter-spacing="0.72" fill="#ffc4bc" stroke="#ffc4bc" stroke-width="0.2" font-weight="normal">18:03:20</text>
<rect x="2491" y="346" width="67.5" height="28.6" rx="4" fill="#131722"/>
<text x="2496.5" y="365" font-size="12.6" letter-spacing="0.6" fill="#d6d9e0">USDT</text>
<path d="M2545.6 358.8 L2548.9 361.8 L2552.2 358.8" fill="none" stroke="#e0e3ea" stroke-width="1.8" stroke-linecap="round" stroke-linejoin="round"/>
<circle cx="23.6" cy="357.1" r="7.4" fill="#21a38a"/>
<path d="M20.4 354.4h6.4v1.6h-2.4v5h-1.6v-5h-2.4z" fill="#e6f5f1"/>
<circle cx="15.7" cy="366" r="9" fill="#b2b5be"/>
<circle cx="15.7" cy="366" r="7.9" fill="#f39530"/>
<text x="12.9" y="369.7" font-size="10" font-weight="bold" fill="#fde6cb" transform="rotate(12 15.7 366)">₿</text>
<text x="37" y="368.6" font-size="20" letter-spacing="-0.15" fill="#131722" stroke="#131722" stroke-width="0.3">BTCUSDT.P</text>
<text x="164" y="368.6" font-size="20" fill="#131722" stroke="#131722" stroke-width="0.3">1D</text>
<text x="206" y="368.6" font-size="20" letter-spacing="-0.3" fill="#131722" stroke="#131722" stroke-width="0.3">BYBIT</text>
<circle cx="155" cy="362.6" r="1.3" fill="#c5c8d0"/><circle cx="197.9" cy="362.6" r="1.3" fill="#c5c8d0"/>
<path d="M277.2 352.9H294.3L289.3 361.1L295 369.3H277.2Z" fill="#00e5fb"/>
<circle cx="329.3" cy="361.4" r="11.5" fill="#9fbcb8" fill-opacity="0.6"/>
<circle cx="329.3" cy="361.4" r="5.4" fill="#0f9f82"/>
<text x="362" y="368.9" font-size="16" letter-spacing="0" fill="#131722">O</text>
<text x="377.4" y="368.9" font-size="16" letter-spacing="0.95" fill="#dc4549">30120.0</text>
<text x="452.3" y="368.9" font-size="16" letter-spacing="0" fill="#131722">H</text>
<text x="466.2" y="368.9" font-size="16" letter-spacing="0.95" fill="#dc4549">30224.6</text>
<text x="541.6" y="368.9" font-size="16" letter-spacing="0" fill="#131722">L</text>
<text x="552.4" y="368.9" font-size="16" letter-spacing="0.95" fill="#dc4549">30015.4</text>
<text x="627.6" y="368.9" font-size="16" letter-spacing="0" fill="#131722">C</text>
<text x="641.6" y="368.9" font-size="16" letter-spacing="0.95" fill="#dc4549">30035.2</text>
<text x="716.4" y="368.9" font-size="16" letter-spacing="0.9" fill="#dc4549">−84.8 (−0.28%)</text>
<rect x="9.2" y="380.7" width="40.8" height="24.7" rx="3.5" fill="#b4b7c0" stroke="#555965" stroke-width="1.2"/>
<path d="M18.5 391.05 L22.7 395.25 L26.9 391.05" fill="none" stroke="#cfd2d9" stroke-width="2" stroke-linecap="round" stroke-linejoin="round"/>
<text x="35.2" y="398.25" font-size="15" fill="#cdd0d7">2</text>
<text x="104.2" y="1495.2" font-size="13" letter-spacing="0.5" text-anchor="middle" fill="#1e222d" stroke="#1e222d" stroke-width="0.25" font-weight="normal">Aug</text>
<text x="288.3" y="1495.2" font-size="13" letter-spacing="0.5" text-anchor="middle" fill="#1e222d" stroke="#1e222d" stroke-width="0.25" font-weight="normal">Sep</text>
<text x="466.5" y="1495.2" font-size="13" letter-spacing="0.5" text-anchor="middle" fill="#1e222d" stroke="#1e222d" stroke-width="0.25" font-weight="normal">Oct</text>
<text x="650.7" y="1495.2" font-size="13" letter-spacing="0.5" text-anchor="middle" fill="#1e222d" stroke="#1e222d" stroke-width="0.25" font-weight="normal">Nov</text>
<text x="828.9" y="1495.2" font-size="13" letter-spacing="0.5" text-anchor="middle" fill="#1e222d" stroke="#1e222d" stroke-width="0.25" font-weight="normal">Dec</text>
<text x="1013.0" y="1495.2" font-size="13" letter-spacing="0.5" text-anchor="middle" fill="#1e222d" stroke="#1e222d" stroke-width="0.25" font-weight="bold">2023</text>
<text x="1197.2" y="1495.2" font-size="13" letter-spacing="0.5" text-anchor="middle" fill="#1e222d" stroke="#1e222d" stroke-width="0.25" font-weight="normal">Feb</text>
<text x="1363.5" y="1495.2" font-size="13" letter-spacing="0.5" text-anchor="middle" fill="#1e222d" stroke="#1e222d" stroke-width="0.25" font-weight="normal">Mar</text>
<text x="1547.6" y="1495.2" font-size="13" letter-spacing="0.5" text-anchor="middle" fill="#1e222d" stroke="#1e222d" stroke-width="0.25" font-weight="normal">Apr</text>
<text x="1725.8" y="1495.2" font-size="13" letter-spacing="0.5" text-anchor="middle" fill="#1e222d" stroke="#1e222d" stroke-width="0.25" font-weight="normal">May</text>
<text x="1910.0" y="1495.2" font-size="13" letter-spacing="0.5" text-anchor="middle" fill="#1e222d" stroke="#1e222d" stroke-width="0.25" font-weight="normal">Jun</text>
<text x="2088.2" y="1495.2" font-size="13" letter-spacing="0.5" text-anchor="middle" fill="#1e222d" stroke="#1e222d" stroke-width="0.25" font-weight="normal">Jul</text>
<text x="2272.3" y="1495.2" font-size="13" letter-spacing="0.5" text-anchor="middle" fill="#1e222d" stroke="#1e222d" stroke-width="0.25" font-weight="normal">Aug</text>
<text x="2456.4" y="1495.2" font-size="13" letter-spacing="0.5" text-anchor="middle" fill="#1e222d" stroke="#1e222d" stroke-width="0.25" font-weight="normal">Sep</text>
<text x="-3.5" y="1495.6" font-size="13" fill="#1e222d">4</text>
<g stroke="#ffffff" stroke-width="4.6" stroke-linejoin="round" fill="#ffffff"><path d="M13.5 1437.6H29.4V1455.6H20.6V1443.7H13.5Z"/><circle cx="34.9" cy="1440.8" r="2.9"/><path d="M41 1437.6H51.1L45 1455.6H35.7Z"/></g>
<g fill="#1c1f2b"><path d="M13.5 1437.6H29.4V1455.6H20.6V1443.7H13.5Z"/><circle cx="34.9" cy="1440.8" r="2.9"/><path d="M41 1437.6H51.1L45 1455.6H35.7Z"/></g>
<polygon points="2534.7,1491.0 2530.1,1499.0 2520.9,1499.0 2516.3,1491.0 2520.9,1483.0 2530.1,1483.0" fill="none" stroke="#c3c6cf" stroke-width="1.6" stroke-linejoin="round"/>
<circle cx="2525.5" cy="1491" r="3.3" fill="none" stroke="#c3c6cf" stroke-width="1.6"/>
</svg>
</body></html>
